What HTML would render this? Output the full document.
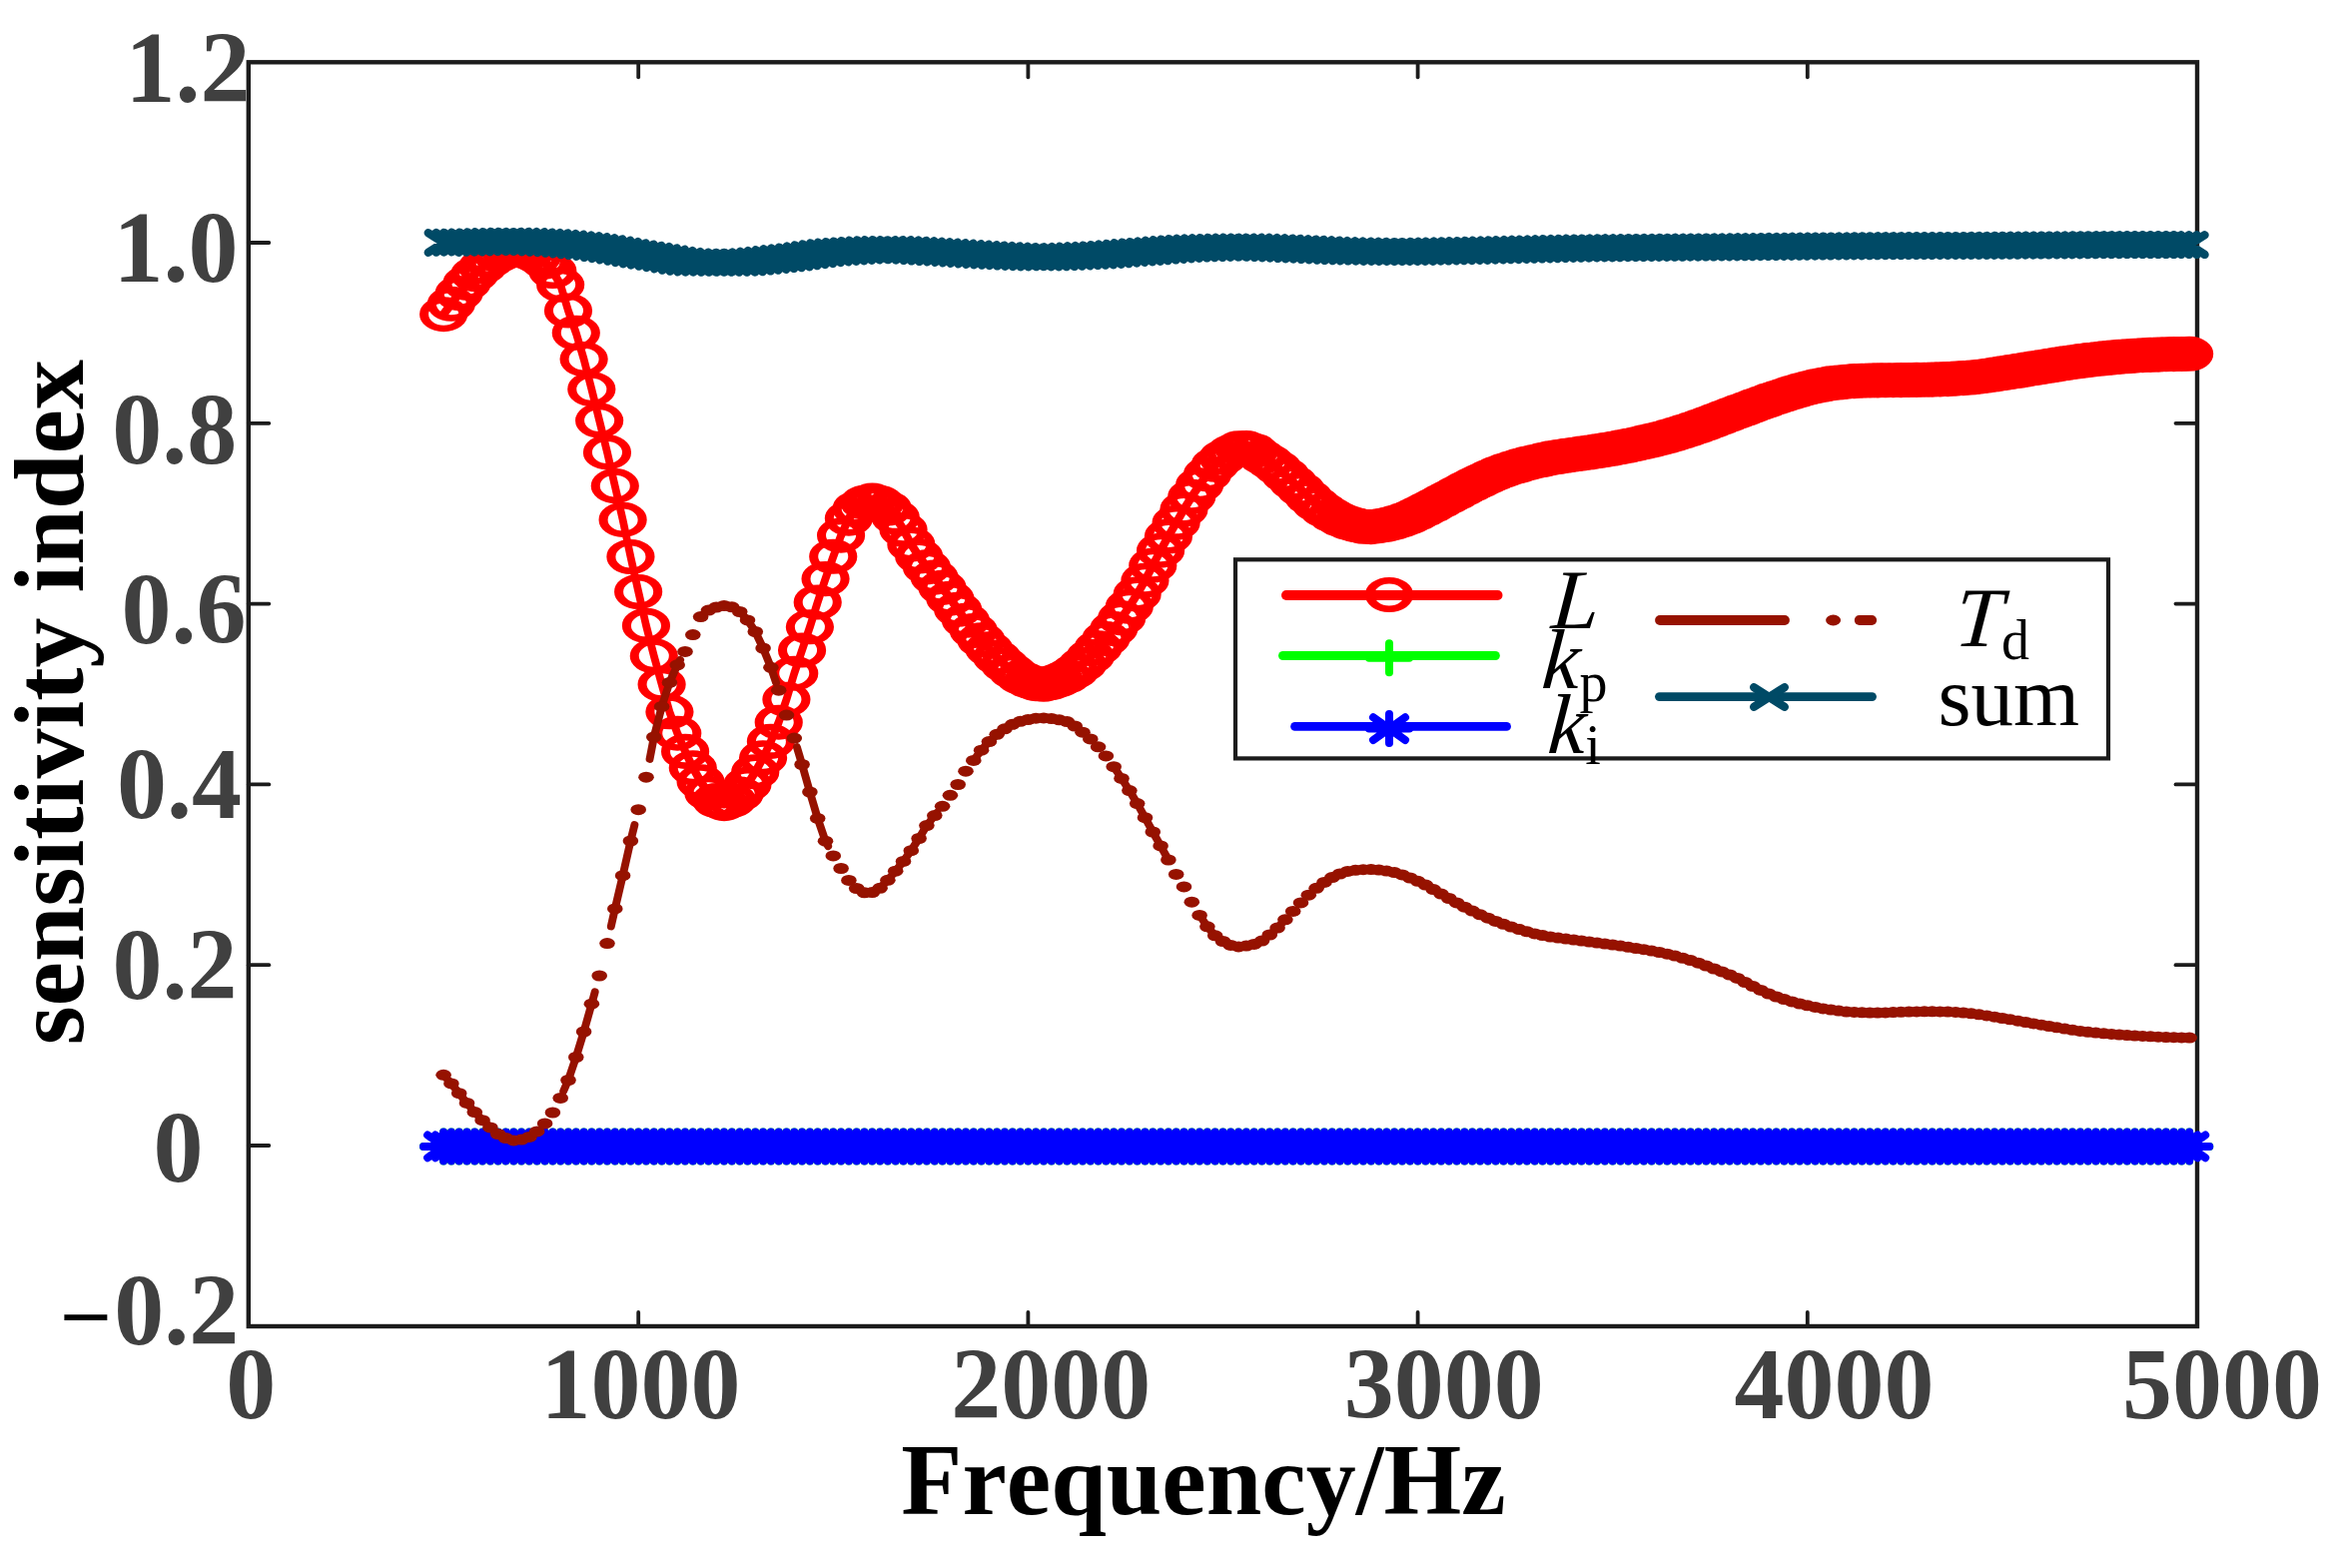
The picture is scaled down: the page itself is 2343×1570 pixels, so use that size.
<!DOCTYPE html>
<html lang="en"><head><meta charset="utf-8"><title>Sensitivity index vs frequency</title>
<style>html,body{margin:0;padding:0;background:#fff}svg{display:block}text{font-family:"Liberation Serif",serif;font-kerning:none}.tk{font-weight:bold;font-size:100px;fill:#404040}.ax{font-weight:bold;font-size:100px;fill:#000}.lg{font-size:85px;fill:#000}.it{font-style:italic}.sub{font-size:56px;font-style:normal}</style></head><body>
<svg width="2343" height="1570" viewBox="0 0 2343 1570">
<rect x="0" y="0" width="2343" height="1570" fill="#fff"/>
<g stroke="#1c1c1c" fill="none">
<rect x="248.8" y="62.3" width="1951.2" height="1265.7" stroke-width="4.4"/>
<g stroke-width="3.8" stroke-linecap="round">
<line x1="639.2" y1="1328.0" x2="639.2" y2="1314.0"/>
<line x1="639.2" y1="62.3" x2="639.2" y2="77.3"/>
<line x1="1029.4" y1="1328.0" x2="1029.4" y2="1314.0"/>
<line x1="1029.4" y1="62.3" x2="1029.4" y2="77.3"/>
<line x1="1419.6" y1="1328.0" x2="1419.6" y2="1314.0"/>
<line x1="1419.6" y1="62.3" x2="1419.6" y2="77.3"/>
<line x1="1809.8" y1="1328.0" x2="1809.8" y2="1314.0"/>
<line x1="1809.8" y1="62.3" x2="1809.8" y2="77.3"/>
<line x1="248.8" y1="243" x2="269.3" y2="243"/>
<line x1="2200.0" y1="243" x2="2178.5" y2="243"/>
<line x1="248.8" y1="423.8" x2="269.3" y2="423.8"/>
<line x1="2200.0" y1="423.8" x2="2178.5" y2="423.8"/>
<line x1="248.8" y1="604.6" x2="269.3" y2="604.6"/>
<line x1="2200.0" y1="604.6" x2="2178.5" y2="604.6"/>
<line x1="248.8" y1="785.4" x2="269.3" y2="785.4"/>
<line x1="2200.0" y1="785.4" x2="2178.5" y2="785.4"/>
<line x1="248.8" y1="966.2" x2="269.3" y2="966.2"/>
<line x1="2200.0" y1="966.2" x2="2178.5" y2="966.2"/>
<line x1="248.8" y1="1147" x2="269.3" y2="1147"/>
<line x1="2200.0" y1="1147" x2="2178.5" y2="1147"/>
</g></g>
<g fill="none" stroke="#ff0000" stroke-linejoin="round" stroke-linecap="round">
<polyline transform="scale(0.76 1)" stroke-width="10" points="584.3,314.7 594.6,304.3 604.9,293.6 615.1,283.4 625.4,274.6 635.7,267.2 646,260.7 656.2,255.8 666.5,252.1 676.8,250.2 687,250.7 697.3,253 707.6,256.9 717.8,262.2 728.1,271.5 738.4,285.1 748.6,311 758.9,333.3 769.2,359.6 779.4,389.7 789.7,421.1 800,452.9 810.2,486.6 820.5,520.4 830.8,557.5 841.1,592.5 851.3,626.4 861.6,656.8 871.9,685.3 882.1,712.8 892.4,734.2 902.7,752.4 912.9,768.8 923.2,782.8 933.5,794.2 943.7,801.5 954,804.6 964.3,801.4 974.5,795 984.8,785.4 995.1,772.9 1005.3,758.8 1015.6,742.4 1025.9,723.2 1036.2,700.3 1046.4,674.2 1056.7,651 1067,627.8 1077.2,603 1087.5,579.6 1097.8,557.3 1108,536.1 1118.3,519.1 1128.6,509 1138.8,503.2 1149.1,501 1159.4,503.6 1169.6,509 1179.9,517.9 1190.2,530.3 1200.4,545 1210.7,557 1221,567.9 1231.3,578.1 1241.5,588.4 1251.8,599.2 1262.1,610.3 1272.3,621.3 1282.6,631.5 1292.9,640.9 1303.1,649.8 1313.4,658.1 1323.7,665.6 1333.9,672.3 1344.2,678.2 1354.5,681.9 1364.7,684.6 1375,685.3 1385.3,683.5 1395.5,680.8 1405.8,677.1 1416.1,672.1 1426.4,665.4 1436.6,657.4 1446.9,648.7 1457.2,639.5 1467.4,629.6 1477.7,618.9 1488,607.3 1498.2,595 1508.5,581.2 1518.8,566.2 1529,551.2 1539.3,537 1549.6,523.4 1559.8,510 1570.1,497.3 1580.4,485.7 1590.6,474.9 1600.9,465.3 1611.2,458.1 1621.5,452.8 1631.7,448.8 1642,448.5 1652.3,451.3 1662.5,457.3 1672.8,462.4 1683.1,468.3 1693.3,475.5 1703.6,483 1713.9,490.2 1724.1,497.8 1734.4,504.9 1744.7,510.9 1754.9,515.8 1765.2,520.1 1775.5,523.4 1785.7,525.6 1796,527.3 1806.3,527.6 1816.6,526.7 1826.8,525.4 1837.1,523.4 1847.4,520.9 1857.6,517.8 1867.9,514 1878.2,510.1 1888.4,506.1 1898.7,501.9 1909,497.7 1919.2,493.5 1929.5,489.4 1939.8,485.3 1950,481.5 1960.3,477.9 1970.6,474.4 1980.8,471.3 1991.1,468.7 2001.4,466.3 2011.7,464.1 2021.9,462.2 2032.2,460.5 2042.5,458.9 2052.7,457.5 2063,456.3 2073.3,455.2 2083.5,454.1 2093.8,453 2104.1,451.8 2114.3,450.6 2124.6,449.3 2134.9,447.8 2145.1,446.3 2155.4,444.7 2165.7,442.9 2175.9,441.1 2186.2,439.2 2196.5,437.1 2206.8,434.8 2217,432.4 2227.3,429.8 2237.6,427.1 2247.8,424.3 2258.1,421.4 2268.4,418.4 2278.6,415.4 2288.9,412.4 2299.2,409.5 2309.4,406.6 2319.7,403.7 2330,400.9 2340.2,398.2 2350.5,395.6 2360.8,393.1 2371,390.8 2381.3,388.7 2391.6,386.9 2401.9,385.3 2412.1,383.9 2422.4,383 2432.7,382.2 2442.9,381.6 2453.2,381.2 2463.5,381 2473.7,380.9 2484,380.8 2494.3,380.7 2504.5,380.6 2514.8,380.5 2525.1,380.4 2535.3,380.3 2545.6,380.1 2555.9,379.9 2566.1,379.6 2576.4,379.1 2586.7,378.6 2597,378 2607.2,377.2 2617.5,376.2 2627.8,375 2638,373.8 2648.3,372.6 2658.6,371.4 2668.8,370.1 2679.1,368.8 2689.4,367.6 2699.6,366.3 2709.9,365.1 2720.2,363.8 2730.4,362.7 2740.7,361.6 2751,360.6 2761.2,359.7 2771.5,358.9 2781.8,358.1 2792.1,357.4 2802.3,356.8 2812.6,356.2 2822.9,355.7 2833.1,355.4 2843.4,355.1 2853.7,354.8 2863.9,354.6 2874.2,354.5 2884.5,354.3"/>
<g transform="scale(1.3730 1)" stroke-width="6.6">
<circle cx="323.5" cy="314.7" r="14.25"/>
<circle cx="329.1" cy="304.3" r="14.25"/>
<circle cx="334.8" cy="293.6" r="14.25"/>
<circle cx="340.5" cy="283.4" r="14.25"/>
<circle cx="346.2" cy="274.6" r="14.25"/>
<circle cx="351.9" cy="267.2" r="14.25"/>
<circle cx="357.6" cy="260.7" r="14.25"/>
<circle cx="363.2" cy="255.8" r="14.25"/>
<circle cx="368.9" cy="252.1" r="14.25"/>
<circle cx="374.6" cy="250.2" r="14.25"/>
<circle cx="380.3" cy="250.7" r="14.25"/>
<circle cx="386" cy="253" r="14.25"/>
<circle cx="391.7" cy="256.9" r="14.25"/>
<circle cx="397.3" cy="262.2" r="14.25"/>
<circle cx="403" cy="271.5" r="14.25"/>
<circle cx="408.7" cy="285.1" r="14.25"/>
<circle cx="414.4" cy="311" r="14.25"/>
<circle cx="420.1" cy="333.3" r="14.25"/>
<circle cx="425.8" cy="359.6" r="14.25"/>
<circle cx="431.4" cy="389.7" r="14.25"/>
<circle cx="437.1" cy="421.1" r="14.25"/>
<circle cx="442.8" cy="452.9" r="14.25"/>
<circle cx="448.5" cy="486.6" r="14.25"/>
<circle cx="454.2" cy="520.4" r="14.25"/>
<circle cx="459.9" cy="557.5" r="14.25"/>
<circle cx="465.5" cy="592.5" r="14.25"/>
<circle cx="471.2" cy="626.4" r="14.25"/>
<circle cx="476.9" cy="656.8" r="14.25"/>
<circle cx="482.6" cy="685.3" r="14.25"/>
<circle cx="488.3" cy="712.8" r="14.25"/>
<circle cx="494" cy="734.2" r="14.25"/>
<circle cx="499.7" cy="752.4" r="14.25"/>
<circle cx="505.3" cy="768.8" r="14.25"/>
<circle cx="511" cy="782.8" r="14.25"/>
<circle cx="516.7" cy="794.2" r="14.25"/>
<circle cx="522.4" cy="801.5" r="14.25"/>
<circle cx="528.1" cy="804.6" r="14.25"/>
<circle cx="533.8" cy="801.4" r="14.25"/>
<circle cx="539.4" cy="795" r="14.25"/>
<circle cx="545.1" cy="785.4" r="14.25"/>
<circle cx="550.8" cy="772.9" r="14.25"/>
<circle cx="556.5" cy="758.8" r="14.25"/>
<circle cx="562.2" cy="742.4" r="14.25"/>
<circle cx="567.9" cy="723.2" r="14.25"/>
<circle cx="573.5" cy="700.3" r="14.25"/>
<circle cx="579.2" cy="674.2" r="14.25"/>
<circle cx="584.9" cy="651" r="14.25"/>
<circle cx="590.6" cy="627.8" r="14.25"/>
<circle cx="596.3" cy="603" r="14.25"/>
<circle cx="602" cy="579.6" r="14.25"/>
<circle cx="607.6" cy="557.3" r="14.25"/>
<circle cx="613.3" cy="536.1" r="14.25"/>
<circle cx="619" cy="519.1" r="14.25"/>
<circle cx="624.7" cy="509" r="14.25"/>
<circle cx="630.4" cy="503.2" r="14.25"/>
<circle cx="636.1" cy="501" r="14.25"/>
<circle cx="641.8" cy="503.6" r="14.25"/>
<circle cx="647.4" cy="509" r="14.25"/>
<circle cx="653.1" cy="517.9" r="14.25"/>
<circle cx="658.8" cy="530.3" r="14.25"/>
<circle cx="664.5" cy="545" r="14.25"/>
<circle cx="670.2" cy="557" r="14.25"/>
<circle cx="675.9" cy="567.9" r="14.25"/>
<circle cx="681.5" cy="578.1" r="14.25"/>
<circle cx="687.2" cy="588.4" r="14.25"/>
<circle cx="692.9" cy="599.2" r="14.25"/>
<circle cx="698.6" cy="610.3" r="14.25"/>
<circle cx="704.3" cy="621.3" r="14.25"/>
<circle cx="710" cy="631.5" r="14.25"/>
<circle cx="715.6" cy="640.9" r="14.25"/>
<circle cx="721.3" cy="649.8" r="14.25"/>
<circle cx="727" cy="658.1" r="14.25"/>
<circle cx="732.7" cy="665.6" r="14.25"/>
<circle cx="738.4" cy="672.3" r="14.25"/>
<circle cx="744.1" cy="678.2" r="14.25"/>
<circle cx="749.7" cy="681.9" r="14.25"/>
<circle cx="755.4" cy="684.6" r="14.25"/>
<circle cx="761.1" cy="685.3" r="14.25"/>
<circle cx="766.8" cy="683.5" r="14.25"/>
<circle cx="772.5" cy="680.8" r="14.25"/>
<circle cx="778.2" cy="677.1" r="14.25"/>
<circle cx="783.8" cy="672.1" r="14.25"/>
<circle cx="789.5" cy="665.4" r="14.25"/>
<circle cx="795.2" cy="657.4" r="14.25"/>
<circle cx="800.9" cy="648.7" r="14.25"/>
<circle cx="806.6" cy="639.5" r="14.25"/>
<circle cx="812.3" cy="629.6" r="14.25"/>
<circle cx="818" cy="618.9" r="14.25"/>
<circle cx="823.6" cy="607.3" r="14.25"/>
<circle cx="829.3" cy="595" r="14.25"/>
<circle cx="835" cy="581.2" r="14.25"/>
<circle cx="840.7" cy="566.2" r="14.25"/>
<circle cx="846.4" cy="551.2" r="14.25"/>
<circle cx="852.1" cy="537" r="14.25"/>
<circle cx="857.7" cy="523.4" r="14.25"/>
<circle cx="863.4" cy="510" r="14.25"/>
<circle cx="869.1" cy="497.3" r="14.25"/>
<circle cx="874.8" cy="485.7" r="14.25"/>
<circle cx="880.5" cy="474.9" r="14.25"/>
<circle cx="886.2" cy="465.3" r="14.25"/>
<circle cx="891.8" cy="458.1" r="14.25"/>
<circle cx="897.5" cy="452.8" r="14.25"/>
<circle cx="903.2" cy="448.8" r="14.25"/>
<circle cx="908.9" cy="448.5" r="14.25"/>
<circle cx="914.6" cy="451.3" r="14.25"/>
<circle cx="920.3" cy="457.3" r="14.25"/>
<circle cx="925.9" cy="462.4" r="14.25"/>
<circle cx="931.6" cy="468.3" r="14.25"/>
<circle cx="937.3" cy="475.5" r="14.25"/>
<circle cx="943" cy="483" r="14.25"/>
<circle cx="948.7" cy="490.2" r="14.25"/>
<circle cx="954.4" cy="497.8" r="14.25"/>
<circle cx="960" cy="504.9" r="14.25"/>
<circle cx="965.7" cy="510.9" r="14.25"/>
<circle cx="971.4" cy="515.8" r="14.25"/>
<circle cx="977.1" cy="520.1" r="14.25"/>
<circle cx="982.8" cy="523.4" r="14.25"/>
<circle cx="988.5" cy="525.6" r="14.25"/>
<circle cx="994.2" cy="527.3" r="14.25"/>
<circle cx="999.8" cy="527.6" r="14.25"/>
<circle cx="1005.5" cy="526.7" r="14.25"/>
<circle cx="1011.2" cy="525.4" r="14.25"/>
<circle cx="1016.9" cy="523.4" r="14.25"/>
<circle cx="1022.6" cy="520.9" r="14.25"/>
<circle cx="1028.3" cy="517.8" r="14.25"/>
<circle cx="1033.9" cy="514" r="14.25"/>
<circle cx="1039.6" cy="510.1" r="14.25"/>
<circle cx="1045.3" cy="506.1" r="14.25"/>
<circle cx="1051" cy="501.9" r="14.25"/>
<circle cx="1056.7" cy="497.7" r="14.25"/>
<circle cx="1062.4" cy="493.5" r="14.25"/>
<circle cx="1068" cy="489.4" r="14.25"/>
<circle cx="1073.7" cy="485.3" r="14.25"/>
<circle cx="1079.4" cy="481.5" r="14.25"/>
<circle cx="1085.1" cy="477.9" r="14.25"/>
<circle cx="1090.8" cy="474.4" r="14.25"/>
<circle cx="1096.5" cy="471.3" r="14.25"/>
<circle cx="1102.1" cy="468.7" r="14.25"/>
<circle cx="1107.8" cy="466.3" r="14.25"/>
<circle cx="1113.5" cy="464.1" r="14.25"/>
<circle cx="1119.2" cy="462.2" r="14.25"/>
<circle cx="1124.9" cy="460.5" r="14.25"/>
<circle cx="1130.6" cy="458.9" r="14.25"/>
<circle cx="1136.3" cy="457.5" r="14.25"/>
<circle cx="1141.9" cy="456.3" r="14.25"/>
<circle cx="1147.6" cy="455.2" r="14.25"/>
<circle cx="1153.3" cy="454.1" r="14.25"/>
<circle cx="1159" cy="453" r="14.25"/>
<circle cx="1164.7" cy="451.8" r="14.25"/>
<circle cx="1170.4" cy="450.6" r="14.25"/>
<circle cx="1176" cy="449.3" r="14.25"/>
<circle cx="1181.7" cy="447.8" r="14.25"/>
<circle cx="1187.4" cy="446.3" r="14.25"/>
<circle cx="1193.1" cy="444.7" r="14.25"/>
<circle cx="1198.8" cy="442.9" r="14.25"/>
<circle cx="1204.5" cy="441.1" r="14.25"/>
<circle cx="1210.1" cy="439.2" r="14.25"/>
<circle cx="1215.8" cy="437.1" r="14.25"/>
<circle cx="1221.5" cy="434.8" r="14.25"/>
<circle cx="1227.2" cy="432.4" r="14.25"/>
<circle cx="1232.9" cy="429.8" r="14.25"/>
<circle cx="1238.6" cy="427.1" r="14.25"/>
<circle cx="1244.2" cy="424.3" r="14.25"/>
<circle cx="1249.9" cy="421.4" r="14.25"/>
<circle cx="1255.6" cy="418.4" r="14.25"/>
<circle cx="1261.3" cy="415.4" r="14.25"/>
<circle cx="1267" cy="412.4" r="14.25"/>
<circle cx="1272.7" cy="409.5" r="14.25"/>
<circle cx="1278.3" cy="406.6" r="14.25"/>
<circle cx="1284" cy="403.7" r="14.25"/>
<circle cx="1289.7" cy="400.9" r="14.25"/>
<circle cx="1295.4" cy="398.2" r="14.25"/>
<circle cx="1301.1" cy="395.6" r="14.25"/>
<circle cx="1306.8" cy="393.1" r="14.25"/>
<circle cx="1312.5" cy="390.8" r="14.25"/>
<circle cx="1318.1" cy="388.7" r="14.25"/>
<circle cx="1323.8" cy="386.9" r="14.25"/>
<circle cx="1329.5" cy="385.3" r="14.25"/>
<circle cx="1335.2" cy="383.9" r="14.25"/>
<circle cx="1340.9" cy="383" r="14.25"/>
<circle cx="1346.6" cy="382.2" r="14.25"/>
<circle cx="1352.2" cy="381.6" r="14.25"/>
<circle cx="1357.9" cy="381.2" r="14.25"/>
<circle cx="1363.6" cy="381" r="14.25"/>
<circle cx="1369.3" cy="380.9" r="14.25"/>
<circle cx="1375" cy="380.8" r="14.25"/>
<circle cx="1380.7" cy="380.7" r="14.25"/>
<circle cx="1386.3" cy="380.6" r="14.25"/>
<circle cx="1392" cy="380.5" r="14.25"/>
<circle cx="1397.7" cy="380.4" r="14.25"/>
<circle cx="1403.4" cy="380.3" r="14.25"/>
<circle cx="1409.1" cy="380.1" r="14.25"/>
<circle cx="1414.8" cy="379.9" r="14.25"/>
<circle cx="1420.4" cy="379.6" r="14.25"/>
<circle cx="1426.1" cy="379.1" r="14.25"/>
<circle cx="1431.8" cy="378.6" r="14.25"/>
<circle cx="1437.5" cy="378" r="14.25"/>
<circle cx="1443.2" cy="377.2" r="14.25"/>
<circle cx="1448.9" cy="376.2" r="14.25"/>
<circle cx="1454.5" cy="375" r="14.25"/>
<circle cx="1460.2" cy="373.8" r="14.25"/>
<circle cx="1465.9" cy="372.6" r="14.25"/>
<circle cx="1471.6" cy="371.4" r="14.25"/>
<circle cx="1477.3" cy="370.1" r="14.25"/>
<circle cx="1483" cy="368.8" r="14.25"/>
<circle cx="1488.7" cy="367.6" r="14.25"/>
<circle cx="1494.3" cy="366.3" r="14.25"/>
<circle cx="1500" cy="365.1" r="14.25"/>
<circle cx="1505.7" cy="363.8" r="14.25"/>
<circle cx="1511.4" cy="362.7" r="14.25"/>
<circle cx="1517.1" cy="361.6" r="14.25"/>
<circle cx="1522.8" cy="360.6" r="14.25"/>
<circle cx="1528.4" cy="359.7" r="14.25"/>
<circle cx="1534.1" cy="358.9" r="14.25"/>
<circle cx="1539.8" cy="358.1" r="14.25"/>
<circle cx="1545.5" cy="357.4" r="14.25"/>
<circle cx="1551.2" cy="356.8" r="14.25"/>
<circle cx="1556.9" cy="356.2" r="14.25"/>
<circle cx="1562.5" cy="355.7" r="14.25"/>
<circle cx="1568.2" cy="355.4" r="14.25"/>
<circle cx="1573.9" cy="355.1" r="14.25"/>
<circle cx="1579.6" cy="354.8" r="14.25"/>
<circle cx="1585.3" cy="354.6" r="14.25"/>
<circle cx="1591" cy="354.5" r="14.25"/>
<circle cx="1596.6" cy="354.3" r="14.25"/>
</g></g>
<g fill="none" stroke="#00ff00" stroke-linecap="round">
<line x1="444.1" y1="1147.9" x2="2192.2" y2="1147.9" stroke-width="9"/>
<path stroke-width="8" d="M424,1147.9h40.2M444.1,1133.4v29M431.8,1147.9h40.2M451.9,1133.4v29M439.6,1147.9h40.2M459.7,1133.4v29M447.4,1147.9h40.2M467.5,1133.4v29M455.2,1147.9h40.2M475.3,1133.4v29M463,1147.9h40.2M483.1,1133.4v29M470.8,1147.9h40.2M490.9,1133.4v29M478.6,1147.9h40.2M498.7,1133.4v29M486.4,1147.9h40.2M506.5,1133.4v29M494.2,1147.9h40.2M514.3,1133.4v29M502,1147.9h40.2M522.1,1133.4v29M509.8,1147.9h40.2M529.9,1133.4v29M517.6,1147.9h40.2M537.7,1133.4v29M525.5,1147.9h40.2M545.6,1133.4v29M533.3,1147.9h40.2M553.4,1133.4v29M541.1,1147.9h40.2M561.2,1133.4v29M548.9,1147.9h40.2M569,1133.4v29M556.7,1147.9h40.2M576.8,1133.4v29M564.5,1147.9h40.2M584.6,1133.4v29M572.3,1147.9h40.2M592.4,1133.4v29M580.1,1147.9h40.2M600.2,1133.4v29M587.9,1147.9h40.2M608,1133.4v29M595.7,1147.9h40.2M615.8,1133.4v29M603.5,1147.9h40.2M623.6,1133.4v29M611.3,1147.9h40.2M631.4,1133.4v29M619.1,1147.9h40.2M639.2,1133.4v29M626.9,1147.9h40.2M647,1133.4v29M634.7,1147.9h40.2M654.8,1133.4v29M642.5,1147.9h40.2M662.6,1133.4v29M650.3,1147.9h40.2M670.4,1133.4v29M658.1,1147.9h40.2M678.2,1133.4v29M665.9,1147.9h40.2M686,1133.4v29M673.7,1147.9h40.2M693.8,1133.4v29M681.5,1147.9h40.2M701.6,1133.4v29M689.3,1147.9h40.2M709.4,1133.4v29M697.1,1147.9h40.2M717.2,1133.4v29M704.9,1147.9h40.2M725,1133.4v29M712.7,1147.9h40.2M732.8,1133.4v29M720.6,1147.9h40.2M740.7,1133.4v29M728.4,1147.9h40.2M748.5,1133.4v29M736.2,1147.9h40.2M756.3,1133.4v29M744,1147.9h40.2M764.1,1133.4v29M751.8,1147.9h40.2M771.9,1133.4v29M759.6,1147.9h40.2M779.7,1133.4v29M767.4,1147.9h40.2M787.5,1133.4v29M775.2,1147.9h40.2M795.3,1133.4v29M783,1147.9h40.2M803.1,1133.4v29M790.8,1147.9h40.2M810.9,1133.4v29M798.6,1147.9h40.2M818.7,1133.4v29M806.4,1147.9h40.2M826.5,1133.4v29M814.2,1147.9h40.2M834.3,1133.4v29M822,1147.9h40.2M842.1,1133.4v29M829.8,1147.9h40.2M849.9,1133.4v29M837.6,1147.9h40.2M857.7,1133.4v29M845.4,1147.9h40.2M865.5,1133.4v29M853.2,1147.9h40.2M873.3,1133.4v29M861,1147.9h40.2M881.1,1133.4v29M868.8,1147.9h40.2M888.9,1133.4v29M876.6,1147.9h40.2M896.7,1133.4v29M884.4,1147.9h40.2M904.5,1133.4v29M892.2,1147.9h40.2M912.3,1133.4v29M900,1147.9h40.2M920.1,1133.4v29M907.8,1147.9h40.2M927.9,1133.4v29M915.7,1147.9h40.2M935.8,1133.4v29M923.5,1147.9h40.2M943.6,1133.4v29M931.3,1147.9h40.2M951.4,1133.4v29M939.1,1147.9h40.2M959.2,1133.4v29M946.9,1147.9h40.2M967,1133.4v29M954.7,1147.9h40.2M974.8,1133.4v29M962.5,1147.9h40.2M982.6,1133.4v29M970.3,1147.9h40.2M990.4,1133.4v29M978.1,1147.9h40.2M998.2,1133.4v29M985.9,1147.9h40.2M1006,1133.4v29M993.7,1147.9h40.2M1013.8,1133.4v29M1001.5,1147.9h40.2M1021.6,1133.4v29M1009.3,1147.9h40.2M1029.4,1133.4v29M1017.1,1147.9h40.2M1037.2,1133.4v29M1024.9,1147.9h40.2M1045,1133.4v29M1032.7,1147.9h40.2M1052.8,1133.4v29M1040.5,1147.9h40.2M1060.6,1133.4v29M1048.3,1147.9h40.2M1068.4,1133.4v29M1056.1,1147.9h40.2M1076.2,1133.4v29M1063.9,1147.9h40.2M1084,1133.4v29M1071.7,1147.9h40.2M1091.8,1133.4v29M1079.5,1147.9h40.2M1099.6,1133.4v29M1087.3,1147.9h40.2M1107.4,1133.4v29M1095.1,1147.9h40.2M1115.2,1133.4v29M1102.9,1147.9h40.2M1123,1133.4v29M1110.8,1147.9h40.2M1130.9,1133.4v29M1118.6,1147.9h40.2M1138.7,1133.4v29M1126.4,1147.9h40.2M1146.5,1133.4v29M1134.2,1147.9h40.2M1154.3,1133.4v29M1142,1147.9h40.2M1162.1,1133.4v29M1149.8,1147.9h40.2M1169.9,1133.4v29M1157.6,1147.9h40.2M1177.7,1133.4v29M1165.4,1147.9h40.2M1185.5,1133.4v29M1173.2,1147.9h40.2M1193.3,1133.4v29M1181,1147.9h40.2M1201.1,1133.4v29M1188.8,1147.9h40.2M1208.9,1133.4v29M1196.6,1147.9h40.2M1216.7,1133.4v29M1204.4,1147.9h40.2M1224.5,1133.4v29M1212.2,1147.9h40.2M1232.3,1133.4v29M1220,1147.9h40.2M1240.1,1133.4v29M1227.8,1147.9h40.2M1247.9,1133.4v29M1235.6,1147.9h40.2M1255.7,1133.4v29M1243.4,1147.9h40.2M1263.5,1133.4v29M1251.2,1147.9h40.2M1271.3,1133.4v29M1259,1147.9h40.2M1279.1,1133.4v29M1266.8,1147.9h40.2M1286.9,1133.4v29M1274.6,1147.9h40.2M1294.7,1133.4v29M1282.4,1147.9h40.2M1302.5,1133.4v29M1290.2,1147.9h40.2M1310.3,1133.4v29M1298,1147.9h40.2M1318.1,1133.4v29M1305.9,1147.9h40.2M1326,1133.4v29M1313.7,1147.9h40.2M1333.8,1133.4v29M1321.5,1147.9h40.2M1341.6,1133.4v29M1329.3,1147.9h40.2M1349.4,1133.4v29M1337.1,1147.9h40.2M1357.2,1133.4v29M1344.9,1147.9h40.2M1365,1133.4v29M1352.7,1147.9h40.2M1372.8,1133.4v29M1360.5,1147.9h40.2M1380.6,1133.4v29M1368.3,1147.9h40.2M1388.4,1133.4v29M1376.1,1147.9h40.2M1396.2,1133.4v29M1383.9,1147.9h40.2M1404,1133.4v29M1391.7,1147.9h40.2M1411.8,1133.4v29M1399.5,1147.9h40.2M1419.6,1133.4v29M1407.3,1147.9h40.2M1427.4,1133.4v29M1415.1,1147.9h40.2M1435.2,1133.4v29M1422.9,1147.9h40.2M1443,1133.4v29M1430.7,1147.9h40.2M1450.8,1133.4v29M1438.5,1147.9h40.2M1458.6,1133.4v29M1446.3,1147.9h40.2M1466.4,1133.4v29M1454.1,1147.9h40.2M1474.2,1133.4v29M1461.9,1147.9h40.2M1482,1133.4v29M1469.7,1147.9h40.2M1489.8,1133.4v29M1477.5,1147.9h40.2M1497.6,1133.4v29M1485.3,1147.9h40.2M1505.4,1133.4v29M1493.1,1147.9h40.2M1513.2,1133.4v29M1501,1147.9h40.2M1521.1,1133.4v29M1508.8,1147.9h40.2M1528.9,1133.4v29M1516.6,1147.9h40.2M1536.7,1133.4v29M1524.4,1147.9h40.2M1544.5,1133.4v29M1532.2,1147.9h40.2M1552.3,1133.4v29M1540,1147.9h40.2M1560.1,1133.4v29M1547.8,1147.9h40.2M1567.9,1133.4v29M1555.6,1147.9h40.2M1575.7,1133.4v29M1563.4,1147.9h40.2M1583.5,1133.4v29M1571.2,1147.9h40.2M1591.3,1133.4v29M1579,1147.9h40.2M1599.1,1133.4v29M1586.8,1147.9h40.2M1606.9,1133.4v29M1594.6,1147.9h40.2M1614.7,1133.4v29M1602.4,1147.9h40.2M1622.5,1133.4v29M1610.2,1147.9h40.2M1630.3,1133.4v29M1618,1147.9h40.2M1638.1,1133.4v29M1625.8,1147.9h40.2M1645.9,1133.4v29M1633.6,1147.9h40.2M1653.7,1133.4v29M1641.4,1147.9h40.2M1661.5,1133.4v29M1649.2,1147.9h40.2M1669.3,1133.4v29M1657,1147.9h40.2M1677.1,1133.4v29M1664.8,1147.9h40.2M1684.9,1133.4v29M1672.6,1147.9h40.2M1692.7,1133.4v29M1680.4,1147.9h40.2M1700.5,1133.4v29M1688.2,1147.9h40.2M1708.3,1133.4v29M1696.1,1147.9h40.2M1716.2,1133.4v29M1703.9,1147.9h40.2M1724,1133.4v29M1711.7,1147.9h40.2M1731.8,1133.4v29M1719.5,1147.9h40.2M1739.6,1133.4v29M1727.3,1147.9h40.2M1747.4,1133.4v29M1735.1,1147.9h40.2M1755.2,1133.4v29M1742.9,1147.9h40.2M1763,1133.4v29M1750.7,1147.9h40.2M1770.8,1133.4v29M1758.5,1147.9h40.2M1778.6,1133.4v29M1766.3,1147.9h40.2M1786.4,1133.4v29M1774.1,1147.9h40.2M1794.2,1133.4v29M1781.9,1147.9h40.2M1802,1133.4v29M1789.7,1147.9h40.2M1809.8,1133.4v29M1797.5,1147.9h40.2M1817.6,1133.4v29M1805.3,1147.9h40.2M1825.4,1133.4v29M1813.1,1147.9h40.2M1833.2,1133.4v29M1820.9,1147.9h40.2M1841,1133.4v29M1828.7,1147.9h40.2M1848.8,1133.4v29M1836.5,1147.9h40.2M1856.6,1133.4v29M1844.3,1147.9h40.2M1864.4,1133.4v29M1852.1,1147.9h40.2M1872.2,1133.4v29M1859.9,1147.9h40.2M1880,1133.4v29M1867.7,1147.9h40.2M1887.8,1133.4v29M1875.5,1147.9h40.2M1895.6,1133.4v29M1883.3,1147.9h40.2M1903.4,1133.4v29M1891.2,1147.9h40.2M1911.3,1133.4v29M1899,1147.9h40.2M1919.1,1133.4v29M1906.8,1147.9h40.2M1926.9,1133.4v29M1914.6,1147.9h40.2M1934.7,1133.4v29M1922.4,1147.9h40.2M1942.5,1133.4v29M1930.2,1147.9h40.2M1950.3,1133.4v29M1938,1147.9h40.2M1958.1,1133.4v29M1945.8,1147.9h40.2M1965.9,1133.4v29M1953.6,1147.9h40.2M1973.7,1133.4v29M1961.4,1147.9h40.2M1981.5,1133.4v29M1969.2,1147.9h40.2M1989.3,1133.4v29M1977,1147.9h40.2M1997.1,1133.4v29M1984.8,1147.9h40.2M2004.9,1133.4v29M1992.6,1147.9h40.2M2012.7,1133.4v29M2000.4,1147.9h40.2M2020.5,1133.4v29M2008.2,1147.9h40.2M2028.3,1133.4v29M2016,1147.9h40.2M2036.1,1133.4v29M2023.8,1147.9h40.2M2043.9,1133.4v29M2031.6,1147.9h40.2M2051.7,1133.4v29M2039.4,1147.9h40.2M2059.5,1133.4v29M2047.2,1147.9h40.2M2067.3,1133.4v29M2055,1147.9h40.2M2075.1,1133.4v29M2062.8,1147.9h40.2M2082.9,1133.4v29M2070.6,1147.9h40.2M2090.7,1133.4v29M2078.4,1147.9h40.2M2098.5,1133.4v29M2086.3,1147.9h40.2M2106.4,1133.4v29M2094.1,1147.9h40.2M2114.2,1133.4v29M2101.9,1147.9h40.2M2122,1133.4v29M2109.7,1147.9h40.2M2129.8,1133.4v29M2117.5,1147.9h40.2M2137.6,1133.4v29M2125.3,1147.9h40.2M2145.4,1133.4v29M2133.1,1147.9h40.2M2153.2,1133.4v29M2140.9,1147.9h40.2M2161,1133.4v29M2148.7,1147.9h40.2M2168.8,1133.4v29M2156.5,1147.9h40.2M2176.6,1133.4v29M2164.3,1147.9h40.2M2184.4,1133.4v29M2172.1,1147.9h40.2M2192.2,1133.4v29"/>
</g>
<g fill="none" stroke="#0000ff" stroke-linecap="round">
<line x1="444.1" y1="1147.9" x2="2192.2" y2="1147.9" stroke-width="9"/>
<path stroke-width="8" d="M424,1147.9h40.2m-20.1,-14.5v29m-16,-3.1l32,-22.8m-32,0l32,22.8M431.8,1147.9h40.2m-20.1,-14.5v29m-16,-3.1l32,-22.8m-32,0l32,22.8M439.6,1147.9h40.2m-20.1,-14.5v29m-16,-3.1l32,-22.8m-32,0l32,22.8M447.4,1147.9h40.2m-20.1,-14.5v29m-16,-3.1l32,-22.8m-32,0l32,22.8M455.2,1147.9h40.2m-20.1,-14.5v29m-16,-3.1l32,-22.8m-32,0l32,22.8M463,1147.9h40.2m-20.1,-14.5v29m-16,-3.1l32,-22.8m-32,0l32,22.8M470.8,1147.9h40.2m-20.1,-14.5v29m-16,-3.1l32,-22.8m-32,0l32,22.8M478.6,1147.9h40.2m-20.1,-14.5v29m-16,-3.1l32,-22.8m-32,0l32,22.8M486.4,1147.9h40.2m-20.1,-14.5v29m-16,-3.1l32,-22.8m-32,0l32,22.8M494.2,1147.9h40.2m-20.1,-14.5v29m-16,-3.1l32,-22.8m-32,0l32,22.8M502,1147.9h40.2m-20.1,-14.5v29m-16,-3.1l32,-22.8m-32,0l32,22.8M509.8,1147.9h40.2m-20.1,-14.5v29m-16,-3.1l32,-22.8m-32,0l32,22.8M517.6,1147.9h40.2m-20.1,-14.5v29m-16,-3.1l32,-22.8m-32,0l32,22.8M525.5,1147.9h40.2m-20.1,-14.5v29m-16,-3.1l32,-22.8m-32,0l32,22.8M533.3,1147.9h40.2m-20.1,-14.5v29m-16,-3.1l32,-22.8m-32,0l32,22.8M541.1,1147.9h40.2m-20.1,-14.5v29m-16,-3.1l32,-22.8m-32,0l32,22.8M548.9,1147.9h40.2m-20.1,-14.5v29m-16,-3.1l32,-22.8m-32,0l32,22.8M556.7,1147.9h40.2m-20.1,-14.5v29m-16,-3.1l32,-22.8m-32,0l32,22.8M564.5,1147.9h40.2m-20.1,-14.5v29m-16,-3.1l32,-22.8m-32,0l32,22.8M572.3,1147.9h40.2m-20.1,-14.5v29m-16,-3.1l32,-22.8m-32,0l32,22.8M580.1,1147.9h40.2m-20.1,-14.5v29m-16,-3.1l32,-22.8m-32,0l32,22.8M587.9,1147.9h40.2m-20.1,-14.5v29m-16,-3.1l32,-22.8m-32,0l32,22.8M595.7,1147.9h40.2m-20.1,-14.5v29m-16,-3.1l32,-22.8m-32,0l32,22.8M603.5,1147.9h40.2m-20.1,-14.5v29m-16,-3.1l32,-22.8m-32,0l32,22.8M611.3,1147.9h40.2m-20.1,-14.5v29m-16,-3.1l32,-22.8m-32,0l32,22.8M619.1,1147.9h40.2m-20.1,-14.5v29m-16,-3.1l32,-22.8m-32,0l32,22.8M626.9,1147.9h40.2m-20.1,-14.5v29m-16,-3.1l32,-22.8m-32,0l32,22.8M634.7,1147.9h40.2m-20.1,-14.5v29m-16,-3.1l32,-22.8m-32,0l32,22.8M642.5,1147.9h40.2m-20.1,-14.5v29m-16,-3.1l32,-22.8m-32,0l32,22.8M650.3,1147.9h40.2m-20.1,-14.5v29m-16,-3.1l32,-22.8m-32,0l32,22.8M658.1,1147.9h40.2m-20.1,-14.5v29m-16,-3.1l32,-22.8m-32,0l32,22.8M665.9,1147.9h40.2m-20.1,-14.5v29m-16,-3.1l32,-22.8m-32,0l32,22.8M673.7,1147.9h40.2m-20.1,-14.5v29m-16,-3.1l32,-22.8m-32,0l32,22.8M681.5,1147.9h40.2m-20.1,-14.5v29m-16,-3.1l32,-22.8m-32,0l32,22.8M689.3,1147.9h40.2m-20.1,-14.5v29m-16,-3.1l32,-22.8m-32,0l32,22.8M697.1,1147.9h40.2m-20.1,-14.5v29m-16,-3.1l32,-22.8m-32,0l32,22.8M704.9,1147.9h40.2m-20.1,-14.5v29m-16,-3.1l32,-22.8m-32,0l32,22.8M712.7,1147.9h40.2m-20.1,-14.5v29m-16,-3.1l32,-22.8m-32,0l32,22.8M720.6,1147.9h40.2m-20.1,-14.5v29m-16,-3.1l32,-22.8m-32,0l32,22.8M728.4,1147.9h40.2m-20.1,-14.5v29m-16,-3.1l32,-22.8m-32,0l32,22.8M736.2,1147.9h40.2m-20.1,-14.5v29m-16,-3.1l32,-22.8m-32,0l32,22.8M744,1147.9h40.2m-20.1,-14.5v29m-16,-3.1l32,-22.8m-32,0l32,22.8M751.8,1147.9h40.2m-20.1,-14.5v29m-16,-3.1l32,-22.8m-32,0l32,22.8M759.6,1147.9h40.2m-20.1,-14.5v29m-16,-3.1l32,-22.8m-32,0l32,22.8M767.4,1147.9h40.2m-20.1,-14.5v29m-16,-3.1l32,-22.8m-32,0l32,22.8M775.2,1147.9h40.2m-20.1,-14.5v29m-16,-3.1l32,-22.8m-32,0l32,22.8M783,1147.9h40.2m-20.1,-14.5v29m-16,-3.1l32,-22.8m-32,0l32,22.8M790.8,1147.9h40.2m-20.1,-14.5v29m-16,-3.1l32,-22.8m-32,0l32,22.8M798.6,1147.9h40.2m-20.1,-14.5v29m-16,-3.1l32,-22.8m-32,0l32,22.8M806.4,1147.9h40.2m-20.1,-14.5v29m-16,-3.1l32,-22.8m-32,0l32,22.8M814.2,1147.9h40.2m-20.1,-14.5v29m-16,-3.1l32,-22.8m-32,0l32,22.8M822,1147.9h40.2m-20.1,-14.5v29m-16,-3.1l32,-22.8m-32,0l32,22.8M829.8,1147.9h40.2m-20.1,-14.5v29m-16,-3.1l32,-22.8m-32,0l32,22.8M837.6,1147.9h40.2m-20.1,-14.5v29m-16,-3.1l32,-22.8m-32,0l32,22.8M845.4,1147.9h40.2m-20.1,-14.5v29m-16,-3.1l32,-22.8m-32,0l32,22.8M853.2,1147.9h40.2m-20.1,-14.5v29m-16,-3.1l32,-22.8m-32,0l32,22.8M861,1147.9h40.2m-20.1,-14.5v29m-16,-3.1l32,-22.8m-32,0l32,22.8M868.8,1147.9h40.2m-20.1,-14.5v29m-16,-3.1l32,-22.8m-32,0l32,22.8M876.6,1147.9h40.2m-20.1,-14.5v29m-16,-3.1l32,-22.8m-32,0l32,22.8M884.4,1147.9h40.2m-20.1,-14.5v29m-16,-3.1l32,-22.8m-32,0l32,22.8M892.2,1147.9h40.2m-20.1,-14.5v29m-16,-3.1l32,-22.8m-32,0l32,22.8M900,1147.9h40.2m-20.1,-14.5v29m-16,-3.1l32,-22.8m-32,0l32,22.8M907.8,1147.9h40.2m-20.1,-14.5v29m-16,-3.1l32,-22.8m-32,0l32,22.8M915.7,1147.9h40.2m-20.1,-14.5v29m-16,-3.1l32,-22.8m-32,0l32,22.8M923.5,1147.9h40.2m-20.1,-14.5v29m-16,-3.1l32,-22.8m-32,0l32,22.8M931.3,1147.9h40.2m-20.1,-14.5v29m-16,-3.1l32,-22.8m-32,0l32,22.8M939.1,1147.9h40.2m-20.1,-14.5v29m-16,-3.1l32,-22.8m-32,0l32,22.8M946.9,1147.9h40.2m-20.1,-14.5v29m-16,-3.1l32,-22.8m-32,0l32,22.8M954.7,1147.9h40.2m-20.1,-14.5v29m-16,-3.1l32,-22.8m-32,0l32,22.8M962.5,1147.9h40.2m-20.1,-14.5v29m-16,-3.1l32,-22.8m-32,0l32,22.8M970.3,1147.9h40.2m-20.1,-14.5v29m-16,-3.1l32,-22.8m-32,0l32,22.8M978.1,1147.9h40.2m-20.1,-14.5v29m-16,-3.1l32,-22.8m-32,0l32,22.8M985.9,1147.9h40.2m-20.1,-14.5v29m-16,-3.1l32,-22.8m-32,0l32,22.8M993.7,1147.9h40.2m-20.1,-14.5v29m-16,-3.1l32,-22.8m-32,0l32,22.8M1001.5,1147.9h40.2m-20.1,-14.5v29m-16,-3.1l32,-22.8m-32,0l32,22.8M1009.3,1147.9h40.2m-20.1,-14.5v29m-16,-3.1l32,-22.8m-32,0l32,22.8M1017.1,1147.9h40.2m-20.1,-14.5v29m-16,-3.1l32,-22.8m-32,0l32,22.8M1024.9,1147.9h40.2m-20.1,-14.5v29m-16,-3.1l32,-22.8m-32,0l32,22.8M1032.7,1147.9h40.2m-20.1,-14.5v29m-16,-3.1l32,-22.8m-32,0l32,22.8M1040.5,1147.9h40.2m-20.1,-14.5v29m-16,-3.1l32,-22.8m-32,0l32,22.8M1048.3,1147.9h40.2m-20.1,-14.5v29m-16,-3.1l32,-22.8m-32,0l32,22.8M1056.1,1147.9h40.2m-20.1,-14.5v29m-16,-3.1l32,-22.8m-32,0l32,22.8M1063.9,1147.9h40.2m-20.1,-14.5v29m-16,-3.1l32,-22.8m-32,0l32,22.8M1071.7,1147.9h40.2m-20.1,-14.5v29m-16,-3.1l32,-22.8m-32,0l32,22.8M1079.5,1147.9h40.2m-20.1,-14.5v29m-16,-3.1l32,-22.8m-32,0l32,22.8M1087.3,1147.9h40.2m-20.1,-14.5v29m-16,-3.1l32,-22.8m-32,0l32,22.8M1095.1,1147.9h40.2m-20.1,-14.5v29m-16,-3.1l32,-22.8m-32,0l32,22.8M1102.9,1147.9h40.2m-20.1,-14.5v29m-16,-3.1l32,-22.8m-32,0l32,22.8M1110.8,1147.9h40.2m-20.1,-14.5v29m-16,-3.1l32,-22.8m-32,0l32,22.8M1118.6,1147.9h40.2m-20.1,-14.5v29m-16,-3.1l32,-22.8m-32,0l32,22.8M1126.4,1147.9h40.2m-20.1,-14.5v29m-16,-3.1l32,-22.8m-32,0l32,22.8M1134.2,1147.9h40.2m-20.1,-14.5v29m-16,-3.1l32,-22.8m-32,0l32,22.8M1142,1147.9h40.2m-20.1,-14.5v29m-16,-3.1l32,-22.8m-32,0l32,22.8M1149.8,1147.9h40.2m-20.1,-14.5v29m-16,-3.1l32,-22.8m-32,0l32,22.8M1157.6,1147.9h40.2m-20.1,-14.5v29m-16,-3.1l32,-22.8m-32,0l32,22.8M1165.4,1147.9h40.2m-20.1,-14.5v29m-16,-3.1l32,-22.8m-32,0l32,22.8M1173.2,1147.9h40.2m-20.1,-14.5v29m-16,-3.1l32,-22.8m-32,0l32,22.8M1181,1147.9h40.2m-20.1,-14.5v29m-16,-3.1l32,-22.8m-32,0l32,22.8M1188.8,1147.9h40.2m-20.1,-14.5v29m-16,-3.1l32,-22.8m-32,0l32,22.8M1196.6,1147.9h40.2m-20.1,-14.5v29m-16,-3.1l32,-22.8m-32,0l32,22.8M1204.4,1147.9h40.2m-20.1,-14.5v29m-16,-3.1l32,-22.8m-32,0l32,22.8M1212.2,1147.9h40.2m-20.1,-14.5v29m-16,-3.1l32,-22.8m-32,0l32,22.8M1220,1147.9h40.2m-20.1,-14.5v29m-16,-3.1l32,-22.8m-32,0l32,22.8M1227.8,1147.9h40.2m-20.1,-14.5v29m-16,-3.1l32,-22.8m-32,0l32,22.8M1235.6,1147.9h40.2m-20.1,-14.5v29m-16,-3.1l32,-22.8m-32,0l32,22.8M1243.4,1147.9h40.2m-20.1,-14.5v29m-16,-3.1l32,-22.8m-32,0l32,22.8M1251.2,1147.9h40.2m-20.1,-14.5v29m-16,-3.1l32,-22.8m-32,0l32,22.8M1259,1147.9h40.2m-20.1,-14.5v29m-16,-3.1l32,-22.8m-32,0l32,22.8M1266.8,1147.9h40.2m-20.1,-14.5v29m-16,-3.1l32,-22.8m-32,0l32,22.8M1274.6,1147.9h40.2m-20.1,-14.5v29m-16,-3.1l32,-22.8m-32,0l32,22.8M1282.4,1147.9h40.2m-20.1,-14.5v29m-16,-3.1l32,-22.8m-32,0l32,22.8M1290.2,1147.9h40.2m-20.1,-14.5v29m-16,-3.1l32,-22.8m-32,0l32,22.8M1298,1147.9h40.2m-20.1,-14.5v29m-16,-3.1l32,-22.8m-32,0l32,22.8M1305.9,1147.9h40.2m-20.1,-14.5v29m-16,-3.1l32,-22.8m-32,0l32,22.8M1313.7,1147.9h40.2m-20.1,-14.5v29m-16,-3.1l32,-22.8m-32,0l32,22.8M1321.5,1147.9h40.2m-20.1,-14.5v29m-16,-3.1l32,-22.8m-32,0l32,22.8M1329.3,1147.9h40.2m-20.1,-14.5v29m-16,-3.1l32,-22.8m-32,0l32,22.8M1337.1,1147.9h40.2m-20.1,-14.5v29m-16,-3.1l32,-22.8m-32,0l32,22.8M1344.9,1147.9h40.2m-20.1,-14.5v29m-16,-3.1l32,-22.8m-32,0l32,22.8M1352.7,1147.9h40.2m-20.1,-14.5v29m-16,-3.1l32,-22.8m-32,0l32,22.8M1360.5,1147.9h40.2m-20.1,-14.5v29m-16,-3.1l32,-22.8m-32,0l32,22.8M1368.3,1147.9h40.2m-20.1,-14.5v29m-16,-3.1l32,-22.8m-32,0l32,22.8M1376.1,1147.9h40.2m-20.1,-14.5v29m-16,-3.1l32,-22.8m-32,0l32,22.8M1383.9,1147.9h40.2m-20.1,-14.5v29m-16,-3.1l32,-22.8m-32,0l32,22.8M1391.7,1147.9h40.2m-20.1,-14.5v29m-16,-3.1l32,-22.8m-32,0l32,22.8M1399.5,1147.9h40.2m-20.1,-14.5v29m-16,-3.1l32,-22.8m-32,0l32,22.8M1407.3,1147.9h40.2m-20.1,-14.5v29m-16,-3.1l32,-22.8m-32,0l32,22.8M1415.1,1147.9h40.2m-20.1,-14.5v29m-16,-3.1l32,-22.8m-32,0l32,22.8M1422.9,1147.9h40.2m-20.1,-14.5v29m-16,-3.1l32,-22.8m-32,0l32,22.8M1430.7,1147.9h40.2m-20.1,-14.5v29m-16,-3.1l32,-22.8m-32,0l32,22.8M1438.5,1147.9h40.2m-20.1,-14.5v29m-16,-3.1l32,-22.8m-32,0l32,22.8M1446.3,1147.9h40.2m-20.1,-14.5v29m-16,-3.1l32,-22.8m-32,0l32,22.8M1454.1,1147.9h40.2m-20.1,-14.5v29m-16,-3.1l32,-22.8m-32,0l32,22.8M1461.9,1147.9h40.2m-20.1,-14.5v29m-16,-3.1l32,-22.8m-32,0l32,22.8M1469.7,1147.9h40.2m-20.1,-14.5v29m-16,-3.1l32,-22.8m-32,0l32,22.8M1477.5,1147.9h40.2m-20.1,-14.5v29m-16,-3.1l32,-22.8m-32,0l32,22.8M1485.3,1147.9h40.2m-20.1,-14.5v29m-16,-3.1l32,-22.8m-32,0l32,22.8M1493.1,1147.9h40.2m-20.1,-14.5v29m-16,-3.1l32,-22.8m-32,0l32,22.8M1501,1147.9h40.2m-20.1,-14.5v29m-16,-3.1l32,-22.8m-32,0l32,22.8M1508.8,1147.9h40.2m-20.1,-14.5v29m-16,-3.1l32,-22.8m-32,0l32,22.8M1516.6,1147.9h40.2m-20.1,-14.5v29m-16,-3.1l32,-22.8m-32,0l32,22.8M1524.4,1147.9h40.2m-20.1,-14.5v29m-16,-3.1l32,-22.8m-32,0l32,22.8M1532.2,1147.9h40.2m-20.1,-14.5v29m-16,-3.1l32,-22.8m-32,0l32,22.8M1540,1147.9h40.2m-20.1,-14.5v29m-16,-3.1l32,-22.8m-32,0l32,22.8M1547.8,1147.9h40.2m-20.1,-14.5v29m-16,-3.1l32,-22.8m-32,0l32,22.8M1555.6,1147.9h40.2m-20.1,-14.5v29m-16,-3.1l32,-22.8m-32,0l32,22.8M1563.4,1147.9h40.2m-20.1,-14.5v29m-16,-3.1l32,-22.8m-32,0l32,22.8M1571.2,1147.9h40.2m-20.1,-14.5v29m-16,-3.1l32,-22.8m-32,0l32,22.8M1579,1147.9h40.2m-20.1,-14.5v29m-16,-3.1l32,-22.8m-32,0l32,22.8M1586.8,1147.9h40.2m-20.1,-14.5v29m-16,-3.1l32,-22.8m-32,0l32,22.8M1594.6,1147.9h40.2m-20.1,-14.5v29m-16,-3.1l32,-22.8m-32,0l32,22.8M1602.4,1147.9h40.2m-20.1,-14.5v29m-16,-3.1l32,-22.8m-32,0l32,22.8M1610.2,1147.9h40.2m-20.1,-14.5v29m-16,-3.1l32,-22.8m-32,0l32,22.8M1618,1147.9h40.2m-20.1,-14.5v29m-16,-3.1l32,-22.8m-32,0l32,22.8M1625.8,1147.9h40.2m-20.1,-14.5v29m-16,-3.1l32,-22.8m-32,0l32,22.8M1633.6,1147.9h40.2m-20.1,-14.5v29m-16,-3.1l32,-22.8m-32,0l32,22.8M1641.4,1147.9h40.2m-20.1,-14.5v29m-16,-3.1l32,-22.8m-32,0l32,22.8M1649.2,1147.9h40.2m-20.1,-14.5v29m-16,-3.1l32,-22.8m-32,0l32,22.8M1657,1147.9h40.2m-20.1,-14.5v29m-16,-3.1l32,-22.8m-32,0l32,22.8M1664.8,1147.9h40.2m-20.1,-14.5v29m-16,-3.1l32,-22.8m-32,0l32,22.8M1672.6,1147.9h40.2m-20.1,-14.5v29m-16,-3.1l32,-22.8m-32,0l32,22.8M1680.4,1147.9h40.2m-20.1,-14.5v29m-16,-3.1l32,-22.8m-32,0l32,22.8M1688.2,1147.9h40.2m-20.1,-14.5v29m-16,-3.1l32,-22.8m-32,0l32,22.8M1696.1,1147.9h40.2m-20.1,-14.5v29m-16,-3.1l32,-22.8m-32,0l32,22.8M1703.9,1147.9h40.2m-20.1,-14.5v29m-16,-3.1l32,-22.8m-32,0l32,22.8M1711.7,1147.9h40.2m-20.1,-14.5v29m-16,-3.1l32,-22.8m-32,0l32,22.8M1719.5,1147.9h40.2m-20.1,-14.5v29m-16,-3.1l32,-22.8m-32,0l32,22.8M1727.3,1147.9h40.2m-20.1,-14.5v29m-16,-3.1l32,-22.8m-32,0l32,22.8M1735.1,1147.9h40.2m-20.1,-14.5v29m-16,-3.1l32,-22.8m-32,0l32,22.8M1742.9,1147.9h40.2m-20.1,-14.5v29m-16,-3.1l32,-22.8m-32,0l32,22.8M1750.7,1147.9h40.2m-20.1,-14.5v29m-16,-3.1l32,-22.8m-32,0l32,22.8M1758.5,1147.9h40.2m-20.1,-14.5v29m-16,-3.1l32,-22.8m-32,0l32,22.8M1766.3,1147.9h40.2m-20.1,-14.5v29m-16,-3.1l32,-22.8m-32,0l32,22.8M1774.1,1147.9h40.2m-20.1,-14.5v29m-16,-3.1l32,-22.8m-32,0l32,22.8M1781.9,1147.9h40.2m-20.1,-14.5v29m-16,-3.1l32,-22.8m-32,0l32,22.8M1789.7,1147.9h40.2m-20.1,-14.5v29m-16,-3.1l32,-22.8m-32,0l32,22.8M1797.5,1147.9h40.2m-20.1,-14.5v29m-16,-3.1l32,-22.8m-32,0l32,22.8M1805.3,1147.9h40.2m-20.1,-14.5v29m-16,-3.1l32,-22.8m-32,0l32,22.8M1813.1,1147.9h40.2m-20.1,-14.5v29m-16,-3.1l32,-22.8m-32,0l32,22.8M1820.9,1147.9h40.2m-20.1,-14.5v29m-16,-3.1l32,-22.8m-32,0l32,22.8M1828.7,1147.9h40.2m-20.1,-14.5v29m-16,-3.1l32,-22.8m-32,0l32,22.8M1836.5,1147.9h40.2m-20.1,-14.5v29m-16,-3.1l32,-22.8m-32,0l32,22.8M1844.3,1147.9h40.2m-20.1,-14.5v29m-16,-3.1l32,-22.8m-32,0l32,22.8M1852.1,1147.9h40.2m-20.1,-14.5v29m-16,-3.1l32,-22.8m-32,0l32,22.8M1859.9,1147.9h40.2m-20.1,-14.5v29m-16,-3.1l32,-22.8m-32,0l32,22.8M1867.7,1147.9h40.2m-20.1,-14.5v29m-16,-3.1l32,-22.8m-32,0l32,22.8M1875.5,1147.9h40.2m-20.1,-14.5v29m-16,-3.1l32,-22.8m-32,0l32,22.8M1883.3,1147.9h40.2m-20.1,-14.5v29m-16,-3.1l32,-22.8m-32,0l32,22.8M1891.2,1147.9h40.2m-20.1,-14.5v29m-16,-3.1l32,-22.8m-32,0l32,22.8M1899,1147.9h40.2m-20.1,-14.5v29m-16,-3.1l32,-22.8m-32,0l32,22.8M1906.8,1147.9h40.2m-20.1,-14.5v29m-16,-3.1l32,-22.8m-32,0l32,22.8M1914.6,1147.9h40.2m-20.1,-14.5v29m-16,-3.1l32,-22.8m-32,0l32,22.8M1922.4,1147.9h40.2m-20.1,-14.5v29m-16,-3.1l32,-22.8m-32,0l32,22.8M1930.2,1147.9h40.2m-20.1,-14.5v29m-16,-3.1l32,-22.8m-32,0l32,22.8M1938,1147.9h40.2m-20.1,-14.5v29m-16,-3.1l32,-22.8m-32,0l32,22.8M1945.8,1147.9h40.2m-20.1,-14.5v29m-16,-3.1l32,-22.8m-32,0l32,22.8M1953.6,1147.9h40.2m-20.1,-14.5v29m-16,-3.1l32,-22.8m-32,0l32,22.8M1961.4,1147.9h40.2m-20.1,-14.5v29m-16,-3.1l32,-22.8m-32,0l32,22.8M1969.2,1147.9h40.2m-20.1,-14.5v29m-16,-3.1l32,-22.8m-32,0l32,22.8M1977,1147.9h40.2m-20.1,-14.5v29m-16,-3.1l32,-22.8m-32,0l32,22.8M1984.8,1147.9h40.2m-20.1,-14.5v29m-16,-3.1l32,-22.8m-32,0l32,22.8M1992.6,1147.9h40.2m-20.1,-14.5v29m-16,-3.1l32,-22.8m-32,0l32,22.8M2000.4,1147.9h40.2m-20.1,-14.5v29m-16,-3.1l32,-22.8m-32,0l32,22.8M2008.2,1147.9h40.2m-20.1,-14.5v29m-16,-3.1l32,-22.8m-32,0l32,22.8M2016,1147.9h40.2m-20.1,-14.5v29m-16,-3.1l32,-22.8m-32,0l32,22.8M2023.8,1147.9h40.2m-20.1,-14.5v29m-16,-3.1l32,-22.8m-32,0l32,22.8M2031.6,1147.9h40.2m-20.1,-14.5v29m-16,-3.1l32,-22.8m-32,0l32,22.8M2039.4,1147.9h40.2m-20.1,-14.5v29m-16,-3.1l32,-22.8m-32,0l32,22.8M2047.2,1147.9h40.2m-20.1,-14.5v29m-16,-3.1l32,-22.8m-32,0l32,22.8M2055,1147.9h40.2m-20.1,-14.5v29m-16,-3.1l32,-22.8m-32,0l32,22.8M2062.8,1147.9h40.2m-20.1,-14.5v29m-16,-3.1l32,-22.8m-32,0l32,22.8M2070.6,1147.9h40.2m-20.1,-14.5v29m-16,-3.1l32,-22.8m-32,0l32,22.8M2078.4,1147.9h40.2m-20.1,-14.5v29m-16,-3.1l32,-22.8m-32,0l32,22.8M2086.3,1147.9h40.2m-20.1,-14.5v29m-16,-3.1l32,-22.8m-32,0l32,22.8M2094.1,1147.9h40.2m-20.1,-14.5v29m-16,-3.1l32,-22.8m-32,0l32,22.8M2101.9,1147.9h40.2m-20.1,-14.5v29m-16,-3.1l32,-22.8m-32,0l32,22.8M2109.7,1147.9h40.2m-20.1,-14.5v29m-16,-3.1l32,-22.8m-32,0l32,22.8M2117.5,1147.9h40.2m-20.1,-14.5v29m-16,-3.1l32,-22.8m-32,0l32,22.8M2125.3,1147.9h40.2m-20.1,-14.5v29m-16,-3.1l32,-22.8m-32,0l32,22.8M2133.1,1147.9h40.2m-20.1,-14.5v29m-16,-3.1l32,-22.8m-32,0l32,22.8M2140.9,1147.9h40.2m-20.1,-14.5v29m-16,-3.1l32,-22.8m-32,0l32,22.8M2148.7,1147.9h40.2m-20.1,-14.5v29m-16,-3.1l32,-22.8m-32,0l32,22.8M2156.5,1147.9h40.2m-20.1,-14.5v29m-16,-3.1l32,-22.8m-32,0l32,22.8M2164.3,1147.9h40.2m-20.1,-14.5v29m-16,-3.1l32,-22.8m-32,0l32,22.8M2172.1,1147.9h40.2m-20.1,-14.5v29m-16,-3.1l32,-22.8m-32,0l32,22.8"/>
</g>
<g stroke="#961200" fill="#961200">
<polyline fill="none" stroke-width="7.9" stroke-linecap="round" stroke-linejoin="round" stroke-dasharray="104.1 67.9" points="444.1,1076.3 451.9,1084.9 459.7,1094.7 467.5,1104.4 475.3,1113.6 483.1,1121.7 490.9,1128.9 498.7,1135.5 506.5,1139.6 514.3,1141.9 522.1,1141.1 529.9,1138.4 537.7,1132.9 545.6,1124.9 553.4,1114 561.2,1099.4 569,1081.5 576.8,1058.5 584.6,1033 592.4,1005.2 600.2,977 608,944.6 615.8,909.9 623.6,876.7 631.4,842 639.2,810.7 647,778.2 654.8,738 662.6,707.4 670.4,683.4 678.2,665.8 686,652.4 693.8,635.6 701.6,617.6 709.4,611.1 717.2,608 725,606.5 732.8,607.8 740.7,612.5 748.5,620.9 756.3,632.5 764.1,649 771.9,668.3 779.7,691.2 787.5,716.1 795.3,739.1 803.1,765.5 810.9,793 818.7,819.4 826.5,842.2 834.3,856.9 842.1,869.5 849.9,881.4 857.7,889.5 865.5,893.8 873.3,893.6 881.1,889.3 888.9,881.3 896.7,872.2 904.5,862.4 912.3,851.7 920.1,839.5 927.9,826.6 935.8,816.6 943.6,807.3 951.4,796.3 959.2,785.5 967,772.2 974.8,761.4 982.6,751.2 990.4,742.6 998.2,735.3 1006,729.8 1013.8,725.3 1021.6,722.3 1029.4,720.5 1037.2,719.2 1045,718.9 1052.8,719.5 1060.6,720.8 1068.4,722.6 1076.2,727 1084,733.2 1091.8,739.9 1099.6,747.8 1107.4,756.9 1115.2,767.7 1123,779.4 1130.9,791.6 1138.7,804.6 1146.5,818.7 1154.3,833 1162.1,846.9 1169.9,861 1177.7,875.4 1185.5,887.9 1193.3,903.2 1201.1,916.4 1208.9,927.8 1216.7,936.8 1224.5,942.5 1232.3,946.4 1240.1,947.9 1247.9,947.1 1255.7,945.4 1263.5,942.1 1271.3,936 1279.1,929.1 1286.9,920.8 1294.7,912.4 1302.5,903.9 1310.3,896.2 1318.1,889.3 1326,883.4 1333.8,878.6 1341.6,875 1349.4,872.4 1357.2,871.3 1365,870.7 1372.8,870.5 1380.6,871 1388.4,872.1 1396.2,873.6 1404,875.9 1411.8,879 1419.6,882.3 1427.4,886.1 1435.2,890.6 1443,895.1 1450.8,899.5 1458.6,903.9 1466.4,908.2 1474.2,912.1 1482,915.8 1489.8,919.2 1497.6,922.4 1505.4,925.3 1513.2,928.1 1521.1,930.6 1528.9,932.8 1536.7,934.9 1544.5,936.6 1552.3,938 1560.1,939.1 1567.9,940.1 1575.7,941 1583.5,942 1591.3,943 1599.1,944 1606.9,945 1614.7,946 1622.5,947.1 1630.3,948.3 1638.1,949.5 1645.9,950.7 1653.7,952.1 1661.5,953.5 1669.3,955.2 1677.1,957.1 1684.9,959.3 1692.7,961.6 1700.5,964.2 1708.3,967.1 1716.2,970 1724,972.9 1731.8,976 1739.6,979.4 1747.4,983.6 1755.2,987.6 1763,991.4 1770.8,995 1778.6,998 1786.4,1000.6 1794.2,1002.9 1802,1005 1809.8,1006.8 1817.6,1008.4 1825.4,1009.9 1833.2,1011 1841,1012.1 1848.8,1013 1856.6,1013.4 1864.4,1013.8 1872.2,1014 1880,1014.1 1887.8,1013.9 1895.6,1013.6 1903.4,1013.3 1911.3,1013.1 1919.1,1012.9 1926.9,1012.8 1934.7,1012.8 1942.5,1012.9 1950.3,1013.1 1958.1,1013.4 1965.9,1014 1973.7,1014.8 1981.5,1015.8 1989.3,1016.9 1997.1,1018.2 2004.9,1019.5 2012.7,1020.8 2020.5,1022.2 2028.3,1023.5 2036.1,1024.9 2043.9,1026.2 2051.7,1027.5 2059.5,1028.8 2067.3,1030.1 2075.1,1031.3 2082.9,1032.4 2090.7,1033.3 2098.5,1034.1 2106.4,1034.8 2114.2,1035.4 2122,1036 2129.8,1036.5 2137.6,1037 2145.4,1037.4 2153.2,1037.8 2161,1038.2 2168.8,1038.5 2176.6,1038.7 2184.4,1038.9 2192.2,1039.1"/>
<ellipse cx="444.1" cy="1076.3" rx="7.8" ry="5.5" stroke="none"/>
<ellipse cx="451.9" cy="1084.9" rx="7.8" ry="5.5" stroke="none"/>
<ellipse cx="459.7" cy="1094.7" rx="7.8" ry="5.5" stroke="none"/>
<ellipse cx="467.5" cy="1104.4" rx="7.8" ry="5.5" stroke="none"/>
<ellipse cx="475.3" cy="1113.6" rx="7.8" ry="5.5" stroke="none"/>
<ellipse cx="483.1" cy="1121.7" rx="7.8" ry="5.5" stroke="none"/>
<ellipse cx="490.9" cy="1128.9" rx="7.8" ry="5.5" stroke="none"/>
<ellipse cx="498.7" cy="1135.5" rx="7.8" ry="5.5" stroke="none"/>
<ellipse cx="506.5" cy="1139.6" rx="7.8" ry="5.5" stroke="none"/>
<ellipse cx="514.3" cy="1141.9" rx="7.8" ry="5.5" stroke="none"/>
<ellipse cx="522.1" cy="1141.1" rx="7.8" ry="5.5" stroke="none"/>
<ellipse cx="529.9" cy="1138.4" rx="7.8" ry="5.5" stroke="none"/>
<ellipse cx="537.7" cy="1132.9" rx="7.8" ry="5.5" stroke="none"/>
<ellipse cx="545.6" cy="1124.9" rx="7.8" ry="5.5" stroke="none"/>
<ellipse cx="553.4" cy="1114" rx="7.8" ry="5.5" stroke="none"/>
<ellipse cx="561.2" cy="1099.4" rx="7.8" ry="5.5" stroke="none"/>
<ellipse cx="569" cy="1081.5" rx="7.8" ry="5.5" stroke="none"/>
<ellipse cx="576.8" cy="1058.5" rx="7.8" ry="5.5" stroke="none"/>
<ellipse cx="584.6" cy="1033" rx="7.8" ry="5.5" stroke="none"/>
<ellipse cx="592.4" cy="1005.2" rx="7.8" ry="5.5" stroke="none"/>
<ellipse cx="600.2" cy="977" rx="7.8" ry="5.5" stroke="none"/>
<ellipse cx="608" cy="944.6" rx="7.8" ry="5.5" stroke="none"/>
<ellipse cx="615.8" cy="909.9" rx="7.8" ry="5.5" stroke="none"/>
<ellipse cx="623.6" cy="876.7" rx="7.8" ry="5.5" stroke="none"/>
<ellipse cx="631.4" cy="842" rx="7.8" ry="5.5" stroke="none"/>
<ellipse cx="639.2" cy="810.7" rx="7.8" ry="5.5" stroke="none"/>
<ellipse cx="647" cy="778.2" rx="7.8" ry="5.5" stroke="none"/>
<ellipse cx="654.8" cy="738" rx="7.8" ry="5.5" stroke="none"/>
<ellipse cx="662.6" cy="707.4" rx="7.8" ry="5.5" stroke="none"/>
<ellipse cx="670.4" cy="683.4" rx="7.8" ry="5.5" stroke="none"/>
<ellipse cx="678.2" cy="665.8" rx="7.8" ry="5.5" stroke="none"/>
<ellipse cx="686" cy="652.4" rx="7.8" ry="5.5" stroke="none"/>
<ellipse cx="693.8" cy="635.6" rx="7.8" ry="5.5" stroke="none"/>
<ellipse cx="701.6" cy="617.6" rx="7.8" ry="5.5" stroke="none"/>
<ellipse cx="709.4" cy="611.1" rx="7.8" ry="5.5" stroke="none"/>
<ellipse cx="717.2" cy="608" rx="7.8" ry="5.5" stroke="none"/>
<ellipse cx="725" cy="606.5" rx="7.8" ry="5.5" stroke="none"/>
<ellipse cx="732.8" cy="607.8" rx="7.8" ry="5.5" stroke="none"/>
<ellipse cx="740.7" cy="612.5" rx="7.8" ry="5.5" stroke="none"/>
<ellipse cx="748.5" cy="620.9" rx="7.8" ry="5.5" stroke="none"/>
<ellipse cx="756.3" cy="632.5" rx="7.8" ry="5.5" stroke="none"/>
<ellipse cx="764.1" cy="649" rx="7.8" ry="5.5" stroke="none"/>
<ellipse cx="771.9" cy="668.3" rx="7.8" ry="5.5" stroke="none"/>
<ellipse cx="779.7" cy="691.2" rx="7.8" ry="5.5" stroke="none"/>
<ellipse cx="787.5" cy="716.1" rx="7.8" ry="5.5" stroke="none"/>
<ellipse cx="795.3" cy="739.1" rx="7.8" ry="5.5" stroke="none"/>
<ellipse cx="803.1" cy="765.5" rx="7.8" ry="5.5" stroke="none"/>
<ellipse cx="810.9" cy="793" rx="7.8" ry="5.5" stroke="none"/>
<ellipse cx="818.7" cy="819.4" rx="7.8" ry="5.5" stroke="none"/>
<ellipse cx="826.5" cy="842.2" rx="7.8" ry="5.5" stroke="none"/>
<ellipse cx="834.3" cy="856.9" rx="7.8" ry="5.5" stroke="none"/>
<ellipse cx="842.1" cy="869.5" rx="7.8" ry="5.5" stroke="none"/>
<ellipse cx="849.9" cy="881.4" rx="7.8" ry="5.5" stroke="none"/>
<ellipse cx="857.7" cy="889.5" rx="7.8" ry="5.5" stroke="none"/>
<ellipse cx="865.5" cy="893.8" rx="7.8" ry="5.5" stroke="none"/>
<ellipse cx="873.3" cy="893.6" rx="7.8" ry="5.5" stroke="none"/>
<ellipse cx="881.1" cy="889.3" rx="7.8" ry="5.5" stroke="none"/>
<ellipse cx="888.9" cy="881.3" rx="7.8" ry="5.5" stroke="none"/>
<ellipse cx="896.7" cy="872.2" rx="7.8" ry="5.5" stroke="none"/>
<ellipse cx="904.5" cy="862.4" rx="7.8" ry="5.5" stroke="none"/>
<ellipse cx="912.3" cy="851.7" rx="7.8" ry="5.5" stroke="none"/>
<ellipse cx="920.1" cy="839.5" rx="7.8" ry="5.5" stroke="none"/>
<ellipse cx="927.9" cy="826.6" rx="7.8" ry="5.5" stroke="none"/>
<ellipse cx="935.8" cy="816.6" rx="7.8" ry="5.5" stroke="none"/>
<ellipse cx="943.6" cy="807.3" rx="7.8" ry="5.5" stroke="none"/>
<ellipse cx="951.4" cy="796.3" rx="7.8" ry="5.5" stroke="none"/>
<ellipse cx="959.2" cy="785.5" rx="7.8" ry="5.5" stroke="none"/>
<ellipse cx="967" cy="772.2" rx="7.8" ry="5.5" stroke="none"/>
<ellipse cx="974.8" cy="761.4" rx="7.8" ry="5.5" stroke="none"/>
<ellipse cx="982.6" cy="751.2" rx="7.8" ry="5.5" stroke="none"/>
<ellipse cx="990.4" cy="742.6" rx="7.8" ry="5.5" stroke="none"/>
<ellipse cx="998.2" cy="735.3" rx="7.8" ry="5.5" stroke="none"/>
<ellipse cx="1006" cy="729.8" rx="7.8" ry="5.5" stroke="none"/>
<ellipse cx="1013.8" cy="725.3" rx="7.8" ry="5.5" stroke="none"/>
<ellipse cx="1021.6" cy="722.3" rx="7.8" ry="5.5" stroke="none"/>
<ellipse cx="1029.4" cy="720.5" rx="7.8" ry="5.5" stroke="none"/>
<ellipse cx="1037.2" cy="719.2" rx="7.8" ry="5.5" stroke="none"/>
<ellipse cx="1045" cy="718.9" rx="7.8" ry="5.5" stroke="none"/>
<ellipse cx="1052.8" cy="719.5" rx="7.8" ry="5.5" stroke="none"/>
<ellipse cx="1060.6" cy="720.8" rx="7.8" ry="5.5" stroke="none"/>
<ellipse cx="1068.4" cy="722.6" rx="7.8" ry="5.5" stroke="none"/>
<ellipse cx="1076.2" cy="727" rx="7.8" ry="5.5" stroke="none"/>
<ellipse cx="1084" cy="733.2" rx="7.8" ry="5.5" stroke="none"/>
<ellipse cx="1091.8" cy="739.9" rx="7.8" ry="5.5" stroke="none"/>
<ellipse cx="1099.6" cy="747.8" rx="7.8" ry="5.5" stroke="none"/>
<ellipse cx="1107.4" cy="756.9" rx="7.8" ry="5.5" stroke="none"/>
<ellipse cx="1115.2" cy="767.7" rx="7.8" ry="5.5" stroke="none"/>
<ellipse cx="1123" cy="779.4" rx="7.8" ry="5.5" stroke="none"/>
<ellipse cx="1130.9" cy="791.6" rx="7.8" ry="5.5" stroke="none"/>
<ellipse cx="1138.7" cy="804.6" rx="7.8" ry="5.5" stroke="none"/>
<ellipse cx="1146.5" cy="818.7" rx="7.8" ry="5.5" stroke="none"/>
<ellipse cx="1154.3" cy="833" rx="7.8" ry="5.5" stroke="none"/>
<ellipse cx="1162.1" cy="846.9" rx="7.8" ry="5.5" stroke="none"/>
<ellipse cx="1169.9" cy="861" rx="7.8" ry="5.5" stroke="none"/>
<ellipse cx="1177.7" cy="875.4" rx="7.8" ry="5.5" stroke="none"/>
<ellipse cx="1185.5" cy="887.9" rx="7.8" ry="5.5" stroke="none"/>
<ellipse cx="1193.3" cy="903.2" rx="7.8" ry="5.5" stroke="none"/>
<ellipse cx="1201.1" cy="916.4" rx="7.8" ry="5.5" stroke="none"/>
<ellipse cx="1208.9" cy="927.8" rx="7.8" ry="5.5" stroke="none"/>
<ellipse cx="1216.7" cy="936.8" rx="7.8" ry="5.5" stroke="none"/>
<ellipse cx="1224.5" cy="942.5" rx="7.8" ry="5.5" stroke="none"/>
<ellipse cx="1232.3" cy="946.4" rx="7.8" ry="5.5" stroke="none"/>
<ellipse cx="1240.1" cy="947.9" rx="7.8" ry="5.5" stroke="none"/>
<ellipse cx="1247.9" cy="947.1" rx="7.8" ry="5.5" stroke="none"/>
<ellipse cx="1255.7" cy="945.4" rx="7.8" ry="5.5" stroke="none"/>
<ellipse cx="1263.5" cy="942.1" rx="7.8" ry="5.5" stroke="none"/>
<ellipse cx="1271.3" cy="936" rx="7.8" ry="5.5" stroke="none"/>
<ellipse cx="1279.1" cy="929.1" rx="7.8" ry="5.5" stroke="none"/>
<ellipse cx="1286.9" cy="920.8" rx="7.8" ry="5.5" stroke="none"/>
<ellipse cx="1294.7" cy="912.4" rx="7.8" ry="5.5" stroke="none"/>
<ellipse cx="1302.5" cy="903.9" rx="7.8" ry="5.5" stroke="none"/>
<ellipse cx="1310.3" cy="896.2" rx="7.8" ry="5.5" stroke="none"/>
<ellipse cx="1318.1" cy="889.3" rx="7.8" ry="5.5" stroke="none"/>
<ellipse cx="1326" cy="883.4" rx="7.8" ry="5.5" stroke="none"/>
<ellipse cx="1333.8" cy="878.6" rx="7.8" ry="5.5" stroke="none"/>
<ellipse cx="1341.6" cy="875" rx="7.8" ry="5.5" stroke="none"/>
<ellipse cx="1349.4" cy="872.4" rx="7.8" ry="5.5" stroke="none"/>
<ellipse cx="1357.2" cy="871.3" rx="7.8" ry="5.5" stroke="none"/>
<ellipse cx="1365" cy="870.7" rx="7.8" ry="5.5" stroke="none"/>
<ellipse cx="1372.8" cy="870.5" rx="7.8" ry="5.5" stroke="none"/>
<ellipse cx="1380.6" cy="871" rx="7.8" ry="5.5" stroke="none"/>
<ellipse cx="1388.4" cy="872.1" rx="7.8" ry="5.5" stroke="none"/>
<ellipse cx="1396.2" cy="873.6" rx="7.8" ry="5.5" stroke="none"/>
<ellipse cx="1404" cy="875.9" rx="7.8" ry="5.5" stroke="none"/>
<ellipse cx="1411.8" cy="879" rx="7.8" ry="5.5" stroke="none"/>
<ellipse cx="1419.6" cy="882.3" rx="7.8" ry="5.5" stroke="none"/>
<ellipse cx="1427.4" cy="886.1" rx="7.8" ry="5.5" stroke="none"/>
<ellipse cx="1435.2" cy="890.6" rx="7.8" ry="5.5" stroke="none"/>
<ellipse cx="1443" cy="895.1" rx="7.8" ry="5.5" stroke="none"/>
<ellipse cx="1450.8" cy="899.5" rx="7.8" ry="5.5" stroke="none"/>
<ellipse cx="1458.6" cy="903.9" rx="7.8" ry="5.5" stroke="none"/>
<ellipse cx="1466.4" cy="908.2" rx="7.8" ry="5.5" stroke="none"/>
<ellipse cx="1474.2" cy="912.1" rx="7.8" ry="5.5" stroke="none"/>
<ellipse cx="1482" cy="915.8" rx="7.8" ry="5.5" stroke="none"/>
<ellipse cx="1489.8" cy="919.2" rx="7.8" ry="5.5" stroke="none"/>
<ellipse cx="1497.6" cy="922.4" rx="7.8" ry="5.5" stroke="none"/>
<ellipse cx="1505.4" cy="925.3" rx="7.8" ry="5.5" stroke="none"/>
<ellipse cx="1513.2" cy="928.1" rx="7.8" ry="5.5" stroke="none"/>
<ellipse cx="1521.1" cy="930.6" rx="7.8" ry="5.5" stroke="none"/>
<ellipse cx="1528.9" cy="932.8" rx="7.8" ry="5.5" stroke="none"/>
<ellipse cx="1536.7" cy="934.9" rx="7.8" ry="5.5" stroke="none"/>
<ellipse cx="1544.5" cy="936.6" rx="7.8" ry="5.5" stroke="none"/>
<ellipse cx="1552.3" cy="938" rx="7.8" ry="5.5" stroke="none"/>
<ellipse cx="1560.1" cy="939.1" rx="7.8" ry="5.5" stroke="none"/>
<ellipse cx="1567.9" cy="940.1" rx="7.8" ry="5.5" stroke="none"/>
<ellipse cx="1575.7" cy="941" rx="7.8" ry="5.5" stroke="none"/>
<ellipse cx="1583.5" cy="942" rx="7.8" ry="5.5" stroke="none"/>
<ellipse cx="1591.3" cy="943" rx="7.8" ry="5.5" stroke="none"/>
<ellipse cx="1599.1" cy="944" rx="7.8" ry="5.5" stroke="none"/>
<ellipse cx="1606.9" cy="945" rx="7.8" ry="5.5" stroke="none"/>
<ellipse cx="1614.7" cy="946" rx="7.8" ry="5.5" stroke="none"/>
<ellipse cx="1622.5" cy="947.1" rx="7.8" ry="5.5" stroke="none"/>
<ellipse cx="1630.3" cy="948.3" rx="7.8" ry="5.5" stroke="none"/>
<ellipse cx="1638.1" cy="949.5" rx="7.8" ry="5.5" stroke="none"/>
<ellipse cx="1645.9" cy="950.7" rx="7.8" ry="5.5" stroke="none"/>
<ellipse cx="1653.7" cy="952.1" rx="7.8" ry="5.5" stroke="none"/>
<ellipse cx="1661.5" cy="953.5" rx="7.8" ry="5.5" stroke="none"/>
<ellipse cx="1669.3" cy="955.2" rx="7.8" ry="5.5" stroke="none"/>
<ellipse cx="1677.1" cy="957.1" rx="7.8" ry="5.5" stroke="none"/>
<ellipse cx="1684.9" cy="959.3" rx="7.8" ry="5.5" stroke="none"/>
<ellipse cx="1692.7" cy="961.6" rx="7.8" ry="5.5" stroke="none"/>
<ellipse cx="1700.5" cy="964.2" rx="7.8" ry="5.5" stroke="none"/>
<ellipse cx="1708.3" cy="967.1" rx="7.8" ry="5.5" stroke="none"/>
<ellipse cx="1716.2" cy="970" rx="7.8" ry="5.5" stroke="none"/>
<ellipse cx="1724" cy="972.9" rx="7.8" ry="5.5" stroke="none"/>
<ellipse cx="1731.8" cy="976" rx="7.8" ry="5.5" stroke="none"/>
<ellipse cx="1739.6" cy="979.4" rx="7.8" ry="5.5" stroke="none"/>
<ellipse cx="1747.4" cy="983.6" rx="7.8" ry="5.5" stroke="none"/>
<ellipse cx="1755.2" cy="987.6" rx="7.8" ry="5.5" stroke="none"/>
<ellipse cx="1763" cy="991.4" rx="7.8" ry="5.5" stroke="none"/>
<ellipse cx="1770.8" cy="995" rx="7.8" ry="5.5" stroke="none"/>
<ellipse cx="1778.6" cy="998" rx="7.8" ry="5.5" stroke="none"/>
<ellipse cx="1786.4" cy="1000.6" rx="7.8" ry="5.5" stroke="none"/>
<ellipse cx="1794.2" cy="1002.9" rx="7.8" ry="5.5" stroke="none"/>
<ellipse cx="1802" cy="1005" rx="7.8" ry="5.5" stroke="none"/>
<ellipse cx="1809.8" cy="1006.8" rx="7.8" ry="5.5" stroke="none"/>
<ellipse cx="1817.6" cy="1008.4" rx="7.8" ry="5.5" stroke="none"/>
<ellipse cx="1825.4" cy="1009.9" rx="7.8" ry="5.5" stroke="none"/>
<ellipse cx="1833.2" cy="1011" rx="7.8" ry="5.5" stroke="none"/>
<ellipse cx="1841" cy="1012.1" rx="7.8" ry="5.5" stroke="none"/>
<ellipse cx="1848.8" cy="1013" rx="7.8" ry="5.5" stroke="none"/>
<ellipse cx="1856.6" cy="1013.4" rx="7.8" ry="5.5" stroke="none"/>
<ellipse cx="1864.4" cy="1013.8" rx="7.8" ry="5.5" stroke="none"/>
<ellipse cx="1872.2" cy="1014" rx="7.8" ry="5.5" stroke="none"/>
<ellipse cx="1880" cy="1014.1" rx="7.8" ry="5.5" stroke="none"/>
<ellipse cx="1887.8" cy="1013.9" rx="7.8" ry="5.5" stroke="none"/>
<ellipse cx="1895.6" cy="1013.6" rx="7.8" ry="5.5" stroke="none"/>
<ellipse cx="1903.4" cy="1013.3" rx="7.8" ry="5.5" stroke="none"/>
<ellipse cx="1911.3" cy="1013.1" rx="7.8" ry="5.5" stroke="none"/>
<ellipse cx="1919.1" cy="1012.9" rx="7.8" ry="5.5" stroke="none"/>
<ellipse cx="1926.9" cy="1012.8" rx="7.8" ry="5.5" stroke="none"/>
<ellipse cx="1934.7" cy="1012.8" rx="7.8" ry="5.5" stroke="none"/>
<ellipse cx="1942.5" cy="1012.9" rx="7.8" ry="5.5" stroke="none"/>
<ellipse cx="1950.3" cy="1013.1" rx="7.8" ry="5.5" stroke="none"/>
<ellipse cx="1958.1" cy="1013.4" rx="7.8" ry="5.5" stroke="none"/>
<ellipse cx="1965.9" cy="1014" rx="7.8" ry="5.5" stroke="none"/>
<ellipse cx="1973.7" cy="1014.8" rx="7.8" ry="5.5" stroke="none"/>
<ellipse cx="1981.5" cy="1015.8" rx="7.8" ry="5.5" stroke="none"/>
<ellipse cx="1989.3" cy="1016.9" rx="7.8" ry="5.5" stroke="none"/>
<ellipse cx="1997.1" cy="1018.2" rx="7.8" ry="5.5" stroke="none"/>
<ellipse cx="2004.9" cy="1019.5" rx="7.8" ry="5.5" stroke="none"/>
<ellipse cx="2012.7" cy="1020.8" rx="7.8" ry="5.5" stroke="none"/>
<ellipse cx="2020.5" cy="1022.2" rx="7.8" ry="5.5" stroke="none"/>
<ellipse cx="2028.3" cy="1023.5" rx="7.8" ry="5.5" stroke="none"/>
<ellipse cx="2036.1" cy="1024.9" rx="7.8" ry="5.5" stroke="none"/>
<ellipse cx="2043.9" cy="1026.2" rx="7.8" ry="5.5" stroke="none"/>
<ellipse cx="2051.7" cy="1027.5" rx="7.8" ry="5.5" stroke="none"/>
<ellipse cx="2059.5" cy="1028.8" rx="7.8" ry="5.5" stroke="none"/>
<ellipse cx="2067.3" cy="1030.1" rx="7.8" ry="5.5" stroke="none"/>
<ellipse cx="2075.1" cy="1031.3" rx="7.8" ry="5.5" stroke="none"/>
<ellipse cx="2082.9" cy="1032.4" rx="7.8" ry="5.5" stroke="none"/>
<ellipse cx="2090.7" cy="1033.3" rx="7.8" ry="5.5" stroke="none"/>
<ellipse cx="2098.5" cy="1034.1" rx="7.8" ry="5.5" stroke="none"/>
<ellipse cx="2106.4" cy="1034.8" rx="7.8" ry="5.5" stroke="none"/>
<ellipse cx="2114.2" cy="1035.4" rx="7.8" ry="5.5" stroke="none"/>
<ellipse cx="2122" cy="1036" rx="7.8" ry="5.5" stroke="none"/>
<ellipse cx="2129.8" cy="1036.5" rx="7.8" ry="5.5" stroke="none"/>
<ellipse cx="2137.6" cy="1037" rx="7.8" ry="5.5" stroke="none"/>
<ellipse cx="2145.4" cy="1037.4" rx="7.8" ry="5.5" stroke="none"/>
<ellipse cx="2153.2" cy="1037.8" rx="7.8" ry="5.5" stroke="none"/>
<ellipse cx="2161" cy="1038.2" rx="7.8" ry="5.5" stroke="none"/>
<ellipse cx="2168.8" cy="1038.5" rx="7.8" ry="5.5" stroke="none"/>
<ellipse cx="2176.6" cy="1038.7" rx="7.8" ry="5.5" stroke="none"/>
<ellipse cx="2184.4" cy="1038.9" rx="7.8" ry="5.5" stroke="none"/>
<ellipse cx="2192.2" cy="1039.1" rx="7.8" ry="5.5" stroke="none"/>
</g>
<g fill="none" stroke="#004a66" stroke-linecap="round" stroke-linejoin="round">
<polyline stroke-width="9" points="444.1,243 451.9,242.8 459.7,242.7 467.5,242.5 475.3,242.4 483.1,242.2 490.9,242 498.7,241.9 506.5,241.7 514.3,241.7 522.1,241.8 529.9,242 537.7,242.4 545.6,242.8 553.4,243.2 561.2,243.8 569,244.5 576.8,245.3 584.6,246.1 592.4,247 600.2,248.1 608,249.2 615.8,250.5 623.6,251.8 631.4,253.2 639.2,254.4 647,255.7 654.8,256.8 662.6,258.2 670.4,259.5 678.2,260.8 686,261.8 693.8,262.5 701.6,262.7 709.4,262.7 717.2,262.8 725,262.8 732.8,262.8 740.7,262.7 748.5,262.3 756.3,261.6 764.1,260.8 771.9,260 779.7,259.1 787.5,258.3 795.3,257.4 803.1,256.3 810.9,255.2 818.7,254.2 826.5,253.2 834.3,252.5 842.1,251.9 849.9,251.4 857.7,250.9 865.5,250.5 873.3,250.2 881.1,250 888.9,249.9 896.7,250 904.5,250.3 912.3,250.7 920.1,251.1 927.9,251.6 935.8,252.1 943.6,252.5 951.4,253 959.2,253.5 967,254 974.8,254.5 982.6,255 990.4,255.4 998.2,255.8 1006,256.2 1013.8,256.6 1021.6,256.9 1029.4,257.2 1037.2,257.4 1045,257.4 1052.8,257.3 1060.6,257.1 1068.4,256.8 1076.2,256.5 1084,256.1 1091.8,255.8 1099.6,255.4 1107.4,254.9 1115.2,254.3 1123,253.7 1130.9,253 1138.7,252.4 1146.5,251.9 1154.3,251.3 1162.1,250.6 1169.9,250 1177.7,249.4 1185.5,248.9 1193.3,248.6 1201.1,248.3 1208.9,248.1 1216.7,247.9 1224.5,247.7 1232.3,247.6 1240.1,247.5 1247.9,247.5 1255.7,247.6 1263.5,247.8 1271.3,248.1 1279.1,248.4 1286.9,248.7 1294.7,249.1 1302.5,249.4 1310.3,249.7 1318.1,250.1 1326,250.4 1333.8,250.8 1341.6,251.1 1349.4,251.3 1357.2,251.5 1365,251.6 1372.8,251.7 1380.6,251.9 1388.4,251.9 1396.2,252 1404,252 1411.8,251.9 1419.6,251.9 1427.4,251.7 1435.2,251.6 1443,251.5 1450.8,251.3 1458.6,251.2 1466.4,251 1474.2,250.9 1482,250.7 1489.8,250.5 1497.6,250.3 1505.4,250.2 1513.2,250 1521.1,249.8 1528.9,249.6 1536.7,249.5 1544.5,249.3 1552.3,249.1 1560.1,248.9 1567.9,248.8 1575.7,248.7 1583.5,248.5 1591.3,248.4 1599.1,248.4 1606.9,248.3 1614.7,248.2 1622.5,248.1 1630.3,248.1 1638.1,248 1645.9,247.9 1653.7,247.9 1661.5,247.8 1669.3,247.8 1677.1,247.7 1684.9,247.7 1692.7,247.6 1700.5,247.6 1708.3,247.5 1716.2,247.5 1724,247.4 1731.8,247.3 1739.6,247.3 1747.4,247.2 1755.2,247.1 1763,247.1 1770.8,247 1778.6,246.9 1786.4,246.8 1794.2,246.8 1802,246.7 1809.8,246.6 1817.6,246.6 1825.4,246.5 1833.2,246.5 1841,246.4 1848.8,246.4 1856.6,246.3 1864.4,246.3 1872.2,246.2 1880,246.2 1887.8,246.2 1895.6,246.1 1903.4,246.1 1911.3,246.1 1919.1,246.1 1926.9,246 1934.7,246 1942.5,246 1950.3,246 1958.1,245.9 1965.9,245.9 1973.7,245.9 1981.5,245.9 1989.3,245.8 1997.1,245.8 2004.9,245.8 2012.7,245.7 2020.5,245.7 2028.3,245.6 2036.1,245.6 2043.9,245.5 2051.7,245.5 2059.5,245.4 2067.3,245.4 2075.1,245.3 2082.9,245.3 2090.7,245.2 2098.5,245.2 2106.4,245.2 2114.2,245.1 2122,245.1 2129.8,245.1 2137.6,245.1 2145.4,245.1 2153.2,245.1 2161,245.1 2168.8,245.1 2176.6,245.1 2184.4,245.1 2192.2,245.1"/>
<path stroke-width="8.4" d="M428.8,233.2l30.6,19.6m-30.6,0l30.6,-19.6M436.6,233l30.6,19.6m-30.6,0l30.6,-19.6M444.4,232.9l30.6,19.6m-30.6,0l30.6,-19.6M452.2,232.7l30.6,19.6m-30.6,0l30.6,-19.6M460,232.6l30.6,19.6m-30.6,0l30.6,-19.6M467.8,232.4l30.6,19.6m-30.6,0l30.6,-19.6M475.6,232.2l30.6,19.6m-30.6,0l30.6,-19.6M483.4,232.1l30.6,19.6m-30.6,0l30.6,-19.6M491.2,231.9l30.6,19.6m-30.6,0l30.6,-19.6M499,231.9l30.6,19.6m-30.6,0l30.6,-19.6M506.8,232l30.6,19.6m-30.6,0l30.6,-19.6M514.6,232.2l30.6,19.6m-30.6,0l30.6,-19.6M522.4,232.6l30.6,19.6m-30.6,0l30.6,-19.6M530.3,233l30.6,19.6m-30.6,0l30.6,-19.6M538.1,233.4l30.6,19.6m-30.6,0l30.6,-19.6M545.9,234l30.6,19.6m-30.6,0l30.6,-19.6M553.7,234.7l30.6,19.6m-30.6,0l30.6,-19.6M561.5,235.5l30.6,19.6m-30.6,0l30.6,-19.6M569.3,236.3l30.6,19.6m-30.6,0l30.6,-19.6M577.1,237.2l30.6,19.6m-30.6,0l30.6,-19.6M584.9,238.3l30.6,19.6m-30.6,0l30.6,-19.6M592.7,239.4l30.6,19.6m-30.6,0l30.6,-19.6M600.5,240.7l30.6,19.6m-30.6,0l30.6,-19.6M608.3,242l30.6,19.6m-30.6,0l30.6,-19.6M616.1,243.4l30.6,19.6m-30.6,0l30.6,-19.6M623.9,244.6l30.6,19.6m-30.6,0l30.6,-19.6M631.7,245.9l30.6,19.6m-30.6,0l30.6,-19.6M639.5,247l30.6,19.6m-30.6,0l30.6,-19.6M647.3,248.4l30.6,19.6m-30.6,0l30.6,-19.6M655.1,249.7l30.6,19.6m-30.6,0l30.6,-19.6M662.9,251l30.6,19.6m-30.6,0l30.6,-19.6M670.7,252l30.6,19.6m-30.6,0l30.6,-19.6M678.5,252.7l30.6,19.6m-30.6,0l30.6,-19.6M686.3,252.9l30.6,19.6m-30.6,0l30.6,-19.6M694.1,252.9l30.6,19.6m-30.6,0l30.6,-19.6M701.9,253l30.6,19.6m-30.6,0l30.6,-19.6M709.7,253l30.6,19.6m-30.6,0l30.6,-19.6M717.5,253l30.6,19.6m-30.6,0l30.6,-19.6M725.4,252.9l30.6,19.6m-30.6,0l30.6,-19.6M733.2,252.5l30.6,19.6m-30.6,0l30.6,-19.6M741,251.8l30.6,19.6m-30.6,0l30.6,-19.6M748.8,251l30.6,19.6m-30.6,0l30.6,-19.6M756.6,250.2l30.6,19.6m-30.6,0l30.6,-19.6M764.4,249.3l30.6,19.6m-30.6,0l30.6,-19.6M772.2,248.5l30.6,19.6m-30.6,0l30.6,-19.6M780,247.6l30.6,19.6m-30.6,0l30.6,-19.6M787.8,246.5l30.6,19.6m-30.6,0l30.6,-19.6M795.6,245.4l30.6,19.6m-30.6,0l30.6,-19.6M803.4,244.4l30.6,19.6m-30.6,0l30.6,-19.6M811.2,243.4l30.6,19.6m-30.6,0l30.6,-19.6M819,242.7l30.6,19.6m-30.6,0l30.6,-19.6M826.8,242.1l30.6,19.6m-30.6,0l30.6,-19.6M834.6,241.6l30.6,19.6m-30.6,0l30.6,-19.6M842.4,241.1l30.6,19.6m-30.6,0l30.6,-19.6M850.2,240.7l30.6,19.6m-30.6,0l30.6,-19.6M858,240.4l30.6,19.6m-30.6,0l30.6,-19.6M865.8,240.2l30.6,19.6m-30.6,0l30.6,-19.6M873.6,240.1l30.6,19.6m-30.6,0l30.6,-19.6M881.4,240.2l30.6,19.6m-30.6,0l30.6,-19.6M889.2,240.5l30.6,19.6m-30.6,0l30.6,-19.6M897,240.9l30.6,19.6m-30.6,0l30.6,-19.6M904.8,241.3l30.6,19.6m-30.6,0l30.6,-19.6M912.6,241.8l30.6,19.6m-30.6,0l30.6,-19.6M920.5,242.3l30.6,19.6m-30.6,0l30.6,-19.6M928.3,242.7l30.6,19.6m-30.6,0l30.6,-19.6M936.1,243.2l30.6,19.6m-30.6,0l30.6,-19.6M943.9,243.7l30.6,19.6m-30.6,0l30.6,-19.6M951.7,244.2l30.6,19.6m-30.6,0l30.6,-19.6M959.5,244.7l30.6,19.6m-30.6,0l30.6,-19.6M967.3,245.2l30.6,19.6m-30.6,0l30.6,-19.6M975.1,245.6l30.6,19.6m-30.6,0l30.6,-19.6M982.9,246l30.6,19.6m-30.6,0l30.6,-19.6M990.7,246.4l30.6,19.6m-30.6,0l30.6,-19.6M998.5,246.8l30.6,19.6m-30.6,0l30.6,-19.6M1006.3,247.1l30.6,19.6m-30.6,0l30.6,-19.6M1014.1,247.4l30.6,19.6m-30.6,0l30.6,-19.6M1021.9,247.6l30.6,19.6m-30.6,0l30.6,-19.6M1029.7,247.6l30.6,19.6m-30.6,0l30.6,-19.6M1037.5,247.5l30.6,19.6m-30.6,0l30.6,-19.6M1045.3,247.3l30.6,19.6m-30.6,0l30.6,-19.6M1053.1,247l30.6,19.6m-30.6,0l30.6,-19.6M1060.9,246.7l30.6,19.6m-30.6,0l30.6,-19.6M1068.7,246.3l30.6,19.6m-30.6,0l30.6,-19.6M1076.5,246l30.6,19.6m-30.6,0l30.6,-19.6M1084.3,245.6l30.6,19.6m-30.6,0l30.6,-19.6M1092.1,245.1l30.6,19.6m-30.6,0l30.6,-19.6M1099.9,244.5l30.6,19.6m-30.6,0l30.6,-19.6M1107.7,243.9l30.6,19.6m-30.6,0l30.6,-19.6M1115.6,243.2l30.6,19.6m-30.6,0l30.6,-19.6M1123.4,242.6l30.6,19.6m-30.6,0l30.6,-19.6M1131.2,242.1l30.6,19.6m-30.6,0l30.6,-19.6M1139,241.5l30.6,19.6m-30.6,0l30.6,-19.6M1146.8,240.8l30.6,19.6m-30.6,0l30.6,-19.6M1154.6,240.2l30.6,19.6m-30.6,0l30.6,-19.6M1162.4,239.6l30.6,19.6m-30.6,0l30.6,-19.6M1170.2,239.1l30.6,19.6m-30.6,0l30.6,-19.6M1178,238.8l30.6,19.6m-30.6,0l30.6,-19.6M1185.8,238.5l30.6,19.6m-30.6,0l30.6,-19.6M1193.6,238.3l30.6,19.6m-30.6,0l30.6,-19.6M1201.4,238.1l30.6,19.6m-30.6,0l30.6,-19.6M1209.2,237.9l30.6,19.6m-30.6,0l30.6,-19.6M1217,237.8l30.6,19.6m-30.6,0l30.6,-19.6M1224.8,237.7l30.6,19.6m-30.6,0l30.6,-19.6M1232.6,237.7l30.6,19.6m-30.6,0l30.6,-19.6M1240.4,237.8l30.6,19.6m-30.6,0l30.6,-19.6M1248.2,238l30.6,19.6m-30.6,0l30.6,-19.6M1256,238.3l30.6,19.6m-30.6,0l30.6,-19.6M1263.8,238.6l30.6,19.6m-30.6,0l30.6,-19.6M1271.6,238.9l30.6,19.6m-30.6,0l30.6,-19.6M1279.4,239.3l30.6,19.6m-30.6,0l30.6,-19.6M1287.2,239.6l30.6,19.6m-30.6,0l30.6,-19.6M1295,239.9l30.6,19.6m-30.6,0l30.6,-19.6M1302.8,240.3l30.6,19.6m-30.6,0l30.6,-19.6M1310.7,240.6l30.6,19.6m-30.6,0l30.6,-19.6M1318.5,241l30.6,19.6m-30.6,0l30.6,-19.6M1326.3,241.3l30.6,19.6m-30.6,0l30.6,-19.6M1334.1,241.5l30.6,19.6m-30.6,0l30.6,-19.6M1341.9,241.7l30.6,19.6m-30.6,0l30.6,-19.6M1349.7,241.8l30.6,19.6m-30.6,0l30.6,-19.6M1357.5,241.9l30.6,19.6m-30.6,0l30.6,-19.6M1365.3,242.1l30.6,19.6m-30.6,0l30.6,-19.6M1373.1,242.1l30.6,19.6m-30.6,0l30.6,-19.6M1380.9,242.2l30.6,19.6m-30.6,0l30.6,-19.6M1388.7,242.2l30.6,19.6m-30.6,0l30.6,-19.6M1396.5,242.1l30.6,19.6m-30.6,0l30.6,-19.6M1404.3,242.1l30.6,19.6m-30.6,0l30.6,-19.6M1412.1,241.9l30.6,19.6m-30.6,0l30.6,-19.6M1419.9,241.8l30.6,19.6m-30.6,0l30.6,-19.6M1427.7,241.7l30.6,19.6m-30.6,0l30.6,-19.6M1435.5,241.5l30.6,19.6m-30.6,0l30.6,-19.6M1443.3,241.4l30.6,19.6m-30.6,0l30.6,-19.6M1451.1,241.2l30.6,19.6m-30.6,0l30.6,-19.6M1458.9,241.1l30.6,19.6m-30.6,0l30.6,-19.6M1466.7,240.9l30.6,19.6m-30.6,0l30.6,-19.6M1474.5,240.7l30.6,19.6m-30.6,0l30.6,-19.6M1482.3,240.5l30.6,19.6m-30.6,0l30.6,-19.6M1490.1,240.4l30.6,19.6m-30.6,0l30.6,-19.6M1497.9,240.2l30.6,19.6m-30.6,0l30.6,-19.6M1505.8,240l30.6,19.6m-30.6,0l30.6,-19.6M1513.6,239.8l30.6,19.6m-30.6,0l30.6,-19.6M1521.4,239.7l30.6,19.6m-30.6,0l30.6,-19.6M1529.2,239.5l30.6,19.6m-30.6,0l30.6,-19.6M1537,239.3l30.6,19.6m-30.6,0l30.6,-19.6M1544.8,239.1l30.6,19.6m-30.6,0l30.6,-19.6M1552.6,239l30.6,19.6m-30.6,0l30.6,-19.6M1560.4,238.9l30.6,19.6m-30.6,0l30.6,-19.6M1568.2,238.7l30.6,19.6m-30.6,0l30.6,-19.6M1576,238.6l30.6,19.6m-30.6,0l30.6,-19.6M1583.8,238.6l30.6,19.6m-30.6,0l30.6,-19.6M1591.6,238.5l30.6,19.6m-30.6,0l30.6,-19.6M1599.4,238.4l30.6,19.6m-30.6,0l30.6,-19.6M1607.2,238.3l30.6,19.6m-30.6,0l30.6,-19.6M1615,238.3l30.6,19.6m-30.6,0l30.6,-19.6M1622.8,238.2l30.6,19.6m-30.6,0l30.6,-19.6M1630.6,238.1l30.6,19.6m-30.6,0l30.6,-19.6M1638.4,238.1l30.6,19.6m-30.6,0l30.6,-19.6M1646.2,238l30.6,19.6m-30.6,0l30.6,-19.6M1654,238l30.6,19.6m-30.6,0l30.6,-19.6M1661.8,237.9l30.6,19.6m-30.6,0l30.6,-19.6M1669.6,237.9l30.6,19.6m-30.6,0l30.6,-19.6M1677.4,237.8l30.6,19.6m-30.6,0l30.6,-19.6M1685.2,237.8l30.6,19.6m-30.6,0l30.6,-19.6M1693,237.7l30.6,19.6m-30.6,0l30.6,-19.6M1700.9,237.7l30.6,19.6m-30.6,0l30.6,-19.6M1708.7,237.6l30.6,19.6m-30.6,0l30.6,-19.6M1716.5,237.5l30.6,19.6m-30.6,0l30.6,-19.6M1724.3,237.5l30.6,19.6m-30.6,0l30.6,-19.6M1732.1,237.4l30.6,19.6m-30.6,0l30.6,-19.6M1739.9,237.3l30.6,19.6m-30.6,0l30.6,-19.6M1747.7,237.3l30.6,19.6m-30.6,0l30.6,-19.6M1755.5,237.2l30.6,19.6m-30.6,0l30.6,-19.6M1763.3,237.1l30.6,19.6m-30.6,0l30.6,-19.6M1771.1,237l30.6,19.6m-30.6,0l30.6,-19.6M1778.9,237l30.6,19.6m-30.6,0l30.6,-19.6M1786.7,236.9l30.6,19.6m-30.6,0l30.6,-19.6M1794.5,236.8l30.6,19.6m-30.6,0l30.6,-19.6M1802.3,236.8l30.6,19.6m-30.6,0l30.6,-19.6M1810.1,236.7l30.6,19.6m-30.6,0l30.6,-19.6M1817.9,236.7l30.6,19.6m-30.6,0l30.6,-19.6M1825.7,236.6l30.6,19.6m-30.6,0l30.6,-19.6M1833.5,236.6l30.6,19.6m-30.6,0l30.6,-19.6M1841.3,236.5l30.6,19.6m-30.6,0l30.6,-19.6M1849.1,236.5l30.6,19.6m-30.6,0l30.6,-19.6M1856.9,236.4l30.6,19.6m-30.6,0l30.6,-19.6M1864.7,236.4l30.6,19.6m-30.6,0l30.6,-19.6M1872.5,236.4l30.6,19.6m-30.6,0l30.6,-19.6M1880.3,236.3l30.6,19.6m-30.6,0l30.6,-19.6M1888.1,236.3l30.6,19.6m-30.6,0l30.6,-19.6M1896,236.3l30.6,19.6m-30.6,0l30.6,-19.6M1903.8,236.3l30.6,19.6m-30.6,0l30.6,-19.6M1911.6,236.2l30.6,19.6m-30.6,0l30.6,-19.6M1919.4,236.2l30.6,19.6m-30.6,0l30.6,-19.6M1927.2,236.2l30.6,19.6m-30.6,0l30.6,-19.6M1935,236.2l30.6,19.6m-30.6,0l30.6,-19.6M1942.8,236.1l30.6,19.6m-30.6,0l30.6,-19.6M1950.6,236.1l30.6,19.6m-30.6,0l30.6,-19.6M1958.4,236.1l30.6,19.6m-30.6,0l30.6,-19.6M1966.2,236.1l30.6,19.6m-30.6,0l30.6,-19.6M1974,236l30.6,19.6m-30.6,0l30.6,-19.6M1981.8,236l30.6,19.6m-30.6,0l30.6,-19.6M1989.6,236l30.6,19.6m-30.6,0l30.6,-19.6M1997.4,235.9l30.6,19.6m-30.6,0l30.6,-19.6M2005.2,235.9l30.6,19.6m-30.6,0l30.6,-19.6M2013,235.8l30.6,19.6m-30.6,0l30.6,-19.6M2020.8,235.8l30.6,19.6m-30.6,0l30.6,-19.6M2028.6,235.7l30.6,19.6m-30.6,0l30.6,-19.6M2036.4,235.7l30.6,19.6m-30.6,0l30.6,-19.6M2044.2,235.6l30.6,19.6m-30.6,0l30.6,-19.6M2052,235.6l30.6,19.6m-30.6,0l30.6,-19.6M2059.8,235.5l30.6,19.6m-30.6,0l30.6,-19.6M2067.6,235.5l30.6,19.6m-30.6,0l30.6,-19.6M2075.4,235.4l30.6,19.6m-30.6,0l30.6,-19.6M2083.2,235.4l30.6,19.6m-30.6,0l30.6,-19.6M2091.1,235.4l30.6,19.6m-30.6,0l30.6,-19.6M2098.9,235.3l30.6,19.6m-30.6,0l30.6,-19.6M2106.7,235.3l30.6,19.6m-30.6,0l30.6,-19.6M2114.5,235.3l30.6,19.6m-30.6,0l30.6,-19.6M2122.3,235.3l30.6,19.6m-30.6,0l30.6,-19.6M2130.1,235.3l30.6,19.6m-30.6,0l30.6,-19.6M2137.9,235.3l30.6,19.6m-30.6,0l30.6,-19.6M2145.7,235.3l30.6,19.6m-30.6,0l30.6,-19.6M2153.5,235.3l30.6,19.6m-30.6,0l30.6,-19.6M2161.3,235.3l30.6,19.6m-30.6,0l30.6,-19.6M2169.1,235.3l30.6,19.6m-30.6,0l30.6,-19.6M2176.9,235.3l30.6,19.6m-30.6,0l30.6,-19.6"/>
</g>
<text class="tk" transform="translate(125.5 101.8) scale(1 1.025)">1.2</text>
<text class="tk" transform="translate(113.5 281.6) scale(1 1.025)">1.0</text>
<text class="tk" transform="translate(112.3 463.6) scale(1 1.025)">0.8</text>
<text class="tk" transform="translate(121.5 643.6) scale(1 1.025)">0.6</text>
<text class="tk" transform="translate(117 818.6) scale(1 1.025)">0.4</text>
<text class="tk" transform="translate(112.5 999.5) scale(1 1.025)">0.2</text>
<text class="tk" transform="translate(153.6 1183) scale(1 1.025)">0</text>
<text class="tk" transform="translate(114.3 1346) scale(1 1.025)">0.2</text>
<text transform="translate(59.7 1347) scale(1.1 1)" style="font-weight:bold;font-size:84px;fill:#000">−</text>
<text class="tk" transform="translate(226.3 1420.2) scale(1 1.025)">0</text>
<text class="tk" transform="translate(541.5 1420.2) scale(1 1.025)">1000</text>
<text class="tk" transform="translate(952.3 1420.2) scale(1 1.025)">2000</text>
<text class="tk" transform="translate(1345.7 1420.2) scale(1 1.025)">3000</text>
<text class="tk" transform="translate(1736.6 1420.2) scale(1 1.025)">4000</text>
<text class="tk" transform="translate(2125 1420.2) scale(1 1.025)">5000</text>
<text class="ax" transform="translate(902.3 1516.2) scale(1 1.025)">Frequency/Hz</text>
<text class="ax" transform="translate(83.1 1046.3) rotate(-90)">sensitivity index</text>
<rect x="1237" y="560.3" width="874" height="199.1" fill="#fff" stroke="#1c1c1c" stroke-width="4.2"/>
<g fill="none" stroke-linecap="round">
<line x1="1287.9" y1="596" x2="1499.6" y2="596" stroke="#ff0000" stroke-width="9.8"/>
<g transform="translate(1391 595.5) scale(1.3730 1)"><circle r="14.25" stroke="#ff0000" stroke-width="6.6"/></g>
<line x1="1284.6" y1="656.5" x2="1497.3" y2="656.5" stroke="#00ff00" stroke-width="9.1"/>
<path transform="translate(1391 658.7)" stroke="#00ff00" stroke-width="8" d="M-20.1,0h40.2M0,-14.5v29"/>
<line x1="1296.6" y1="727.4" x2="1508.5" y2="727.4" stroke="#0000ff" stroke-width="8.9"/>
<path transform="translate(1391 729.6)" stroke="#0000ff" stroke-width="8" d="M-20.1,0h40.2m-20.1,-14.5v29m-16,-3.1l32,-22.8m-32,0l32,22.8"/>
<line x1="1662" y1="621" x2="1787" y2="621" stroke="#961200" stroke-width="9.8"/>
<line x1="1861.7" y1="621" x2="1874.2" y2="621" stroke="#961200" stroke-width="9.8"/>
<ellipse cx="1835.6" cy="621" rx="7.5" ry="5.4" fill="#961200" stroke="none"/>
<line x1="1661.5" y1="697.6" x2="1874.5" y2="697.6" stroke="#004a66" stroke-width="8.9"/>
<path transform="translate(1771.5 698)" stroke="#004a66" stroke-width="8.4" d="M-15.3,-9.8l30.6,19.6m-30.6,0l30.6,-19.6"/>
</g>
<text class="lg it" transform="translate(1552.3 628.5) skewX(-4.5)">L</text>
<text class="lg it" transform="translate(1542.5 689) skewX(-4.5)">k</text>
<text class="lg sub" x="1581.5" y="701.6">p</text>
<text class="lg it" transform="translate(1548.5 754) skewX(-4.5)">k</text>
<text class="lg sub" x="1587.2" y="764.8">i</text>
<text class="lg it" transform="translate(1956 647) skewX(-4.5)">T</text>
<text class="lg sub" x="2004" y="659.6">d</text>
<text class="lg" x="1940.5" y="726">sum</text>
</svg></body></html>
